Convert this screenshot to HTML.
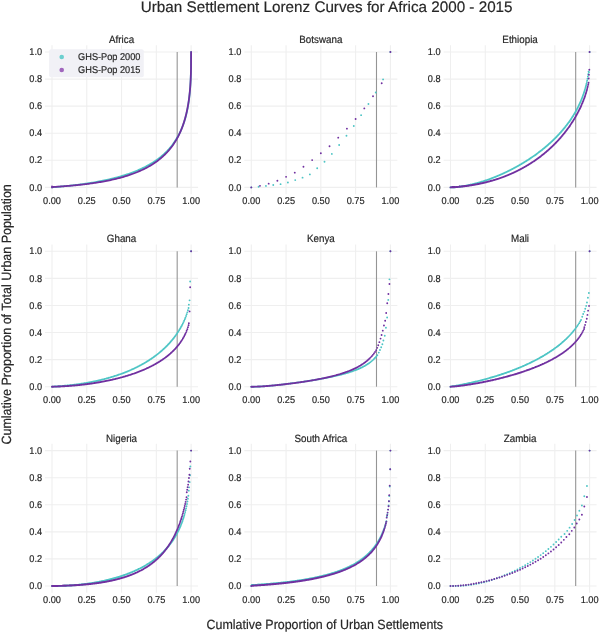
<!DOCTYPE html><html><head><meta charset="utf-8"><style>html,body{margin:0;padding:0;background:#fff;}svg{display:block;will-change:transform}text{font-family:"Liberation Sans", sans-serif;fill:#262626;text-rendering:geometricPrecision;stroke:#262626;stroke-width:0.18px;paint-order:stroke}</style></head><body>
<svg width="599" height="632" viewBox="0 0 599 632">
<rect width="599" height="632" fill="#fff"/>
<text transform="translate(140.80 12.20)" font-size="15.24" fill="#111">Urban Settlement Lorenz Curves for Africa 2000 - 2015</text>
<path d="M52.00 45.23V194.17M86.78 45.23V194.17M121.55 45.23V194.17M156.32 45.23V194.17M191.10 45.23V194.17M45.05 187.40H198.06M45.05 160.32H198.06M45.05 133.24H198.06M45.05 106.16H198.06M45.05 79.08H198.06M45.05 52.00H198.06" stroke="#efefef" stroke-width="1.1" fill="none"/>
<text transform="translate(121.55 42.90) scale(1 1.07)" font-size="9.8" text-anchor="middle">Africa</text>
<text transform="translate(52.00 204.10) scale(1 1.07)" font-size="9.2" text-anchor="middle">0.00</text>
<text transform="translate(86.78 204.10) scale(1 1.07)" font-size="9.2" text-anchor="middle">0.25</text>
<text transform="translate(121.55 204.10) scale(1 1.07)" font-size="9.2" text-anchor="middle">0.50</text>
<text transform="translate(156.32 204.10) scale(1 1.07)" font-size="9.2" text-anchor="middle">0.75</text>
<text transform="translate(191.10 204.10) scale(1 1.07)" font-size="9.2" text-anchor="middle">1.00</text>
<text transform="translate(42.10 190.55) scale(1 1.07)" font-size="9.2" text-anchor="end">0.0</text>
<text transform="translate(42.10 163.47) scale(1 1.07)" font-size="9.2" text-anchor="end">0.2</text>
<text transform="translate(42.10 136.39) scale(1 1.07)" font-size="9.2" text-anchor="end">0.4</text>
<text transform="translate(42.10 109.31) scale(1 1.07)" font-size="9.2" text-anchor="end">0.6</text>
<text transform="translate(42.10 82.23) scale(1 1.07)" font-size="9.2" text-anchor="end">0.8</text>
<text transform="translate(42.10 55.15) scale(1 1.07)" font-size="9.2" text-anchor="end">1.0</text>
<path d="M177.19 52.00V187.40" stroke="#959595" stroke-width="1.1"/>
<rect x="49.1" y="49.2" width="94.7" height="28.1" rx="2" fill="#f1f1f6"/>
<circle cx="61.7" cy="57.0" r="2.3" fill="#6ccfcf"/>
<circle cx="61.7" cy="70.0" r="2.3" fill="#a066bd"/>
<text transform="translate(78.10 59.80) scale(1 1.07)" font-size="9.2">GHS-Pop 2000</text>
<text transform="translate(78.10 72.70) scale(1 1.07)" font-size="9.2">GHS-Pop 2015</text>
<path d="M52.00 187.40 52.00 187.38 52.00 187.38 52.01 187.38 52.01 187.38 52.01 187.38 52.01 187.37 52.01 187.37 52.01 187.37 52.01 187.37 52.01 187.37 52.01 187.37 52.01 187.37 52.01 187.37 52.02 187.37 52.02 187.37 52.02 187.37 52.02 187.37 52.02 187.37 52.03 187.37 52.03 187.37 52.03 187.36 52.03 187.36 52.04 187.36 52.04 187.36 52.04 187.36 52.05 187.36 52.05 187.36 52.06 187.36 52.06 187.35 52.07 187.35 52.08 187.35 52.08 187.35 52.09 187.35 52.10 187.35 52.11 187.35 52.11 187.34 52.12 187.34 52.14 187.34 52.15 187.34 52.16 187.34 52.17 187.33 52.19 187.33 52.20 187.33 52.22 187.33 52.24 187.32 52.26 187.32 52.28 187.32 52.30 187.31 52.32 187.31 52.35 187.31 52.38 187.30 52.41 187.30 52.44 187.30 52.47 187.29 52.51 187.29 52.55 187.28 52.59 187.28 52.63 187.27 52.68 187.27 52.73 187.26 52.78 187.26 52.83 187.25 52.89 187.25 52.96 187.24 53.02 187.23 53.09 187.23 53.17 187.22 53.25 187.21 53.33 187.20 53.42 187.19 53.52 187.19 53.62 187.18 53.73 187.17 53.84 187.16 53.96 187.15 54.08 187.13 54.21 187.12 54.35 187.11 54.50 187.10 54.65 187.08 54.81 187.07 54.98 187.06 55.16 187.04 55.35 187.02 55.54 187.01 55.75 186.99 55.97 186.97 56.19 186.95 56.43 186.93 56.68 186.91 56.94 186.89 57.21 186.87 57.49 186.84 57.79 186.82 58.10 186.79 58.42 186.76 58.75 186.73 59.10 186.70 59.46 186.67 59.84 186.64 60.23 186.60 60.64 186.57 61.06 186.53 61.50 186.49 61.96 186.45 62.43 186.40 62.92 186.36 63.42 186.31 63.94 186.26 64.49 186.21 65.04 186.15 65.62 186.10 66.22 186.04 66.83 185.98 67.46 185.91 68.12 185.85 68.79 185.78 69.48 185.70 70.19 185.63 70.92 185.55 71.67 185.47 72.44 185.38 73.23 185.29 74.04 185.20 74.87 185.10 75.72 185.00 76.59 184.90 77.48 184.79 78.39 184.67 79.32 184.55 80.27 184.43 81.23 184.30 82.22 184.17 83.23 184.03 84.25 183.89 85.30 183.74 86.36 183.58 87.44 183.42 88.54 183.25 89.65 183.08 90.78 182.90 91.93 182.71 93.09 182.52 94.27 182.32 95.47 182.11 96.67 181.90 97.89 181.67 99.13 181.44 100.38 181.20 101.64 180.96 102.91 180.70 104.19 180.44 105.48 180.17 106.78 179.88 108.09 179.59 109.41 179.29 110.73 178.98 112.06 178.66 113.40 178.33 114.74 177.99 116.08 177.64 117.43 177.28 118.78 176.91 120.13 176.53 121.48 176.13 122.84 175.73 124.19 175.31 125.54 174.88 126.89 174.44 128.23 173.99 129.57 173.52 130.91 173.05 132.24 172.56 133.57 172.05 134.88 171.54 136.19 171.01 137.50 170.47 138.79 169.92 140.07 169.35 141.34 168.77 142.60 168.18 143.85 167.57 145.09 166.95 146.31 166.31 147.52 165.67 148.71 165.01 149.89 164.33 151.06 163.64 152.21 162.94 153.34 162.23 154.46 161.50 155.55 160.76 156.64 160.00 157.70 159.24 158.75 158.45 159.77 157.66 160.78 156.85 161.77 156.03 162.74 155.20 163.69 154.36 164.62 153.50 165.53 152.63 166.43 151.75 167.30 150.86 168.15 149.95 168.98 149.04 169.79 148.11 170.59 147.18 171.36 146.23 172.11 145.28 172.84 144.31 173.55 143.34 174.25 142.35 174.92 141.36 175.57 140.36 176.21 139.35 176.82 138.33 177.42 137.31 178.00 136.28 178.56 135.24 179.10 134.20 179.63 133.15 180.14 132.10 180.63 131.05 181.10 129.98 181.56 128.92 182.00 127.85 182.42 126.78 182.83 125.71 183.22 124.63 183.60 123.56 183.97 122.48 184.32 121.40 184.65 120.33 184.97 119.25 185.28 118.17 185.58 117.10 185.86 116.03 186.14 114.96 186.40 113.89 186.65 112.83 186.88 111.77 187.11 110.71 187.33 109.66 187.54 108.61 187.73 107.57 187.92 106.54 188.10 105.51 188.27 104.49 188.43 103.47 188.59 102.47 188.74 101.47 188.88 100.47 189.01 99.49 189.13 98.52 189.25 97.55 189.36 96.59 189.47 95.65 189.57 94.71 189.67 93.78 189.76 92.87 189.84 91.96 189.92 91.07 190.00 90.19 190.07 89.31 190.14 88.45 190.20 87.60 190.26 86.77 190.32 85.94 190.37 85.13 190.42 84.33 190.47 83.54 190.51 82.77 190.55 82.00 190.59 81.25 190.63 80.51 190.66 79.79 190.69 79.08 190.72 78.38 190.75 77.69 190.77 77.02 190.80 76.36 190.82 75.71 190.84 75.07 190.86 74.45 190.88 73.84 190.90 73.24 190.91 72.66 190.93 72.08 190.94 71.52 190.95 70.97 190.96 70.44 190.97 69.91 190.98 69.40 190.99 68.90 191.00 68.41 191.01 67.94 191.02 67.47 191.02 67.02 191.03 66.57 191.10 52.00" fill="none" stroke="#4ec5c5" stroke-width="1.8" stroke-linecap="round" stroke-linejoin="round"/>
<path d="M52.00 187.40 52.00 186.40 52.00 186.44 52.01 186.48 52.01 186.52 52.01 186.55 52.01 186.59 52.01 186.62 52.01 186.64 52.01 186.67 52.01 186.70 52.01 186.72 52.01 186.74 52.01 186.77 52.02 186.79 52.02 186.80 52.02 186.82 52.02 186.84 52.02 186.85 52.03 186.87 52.03 186.88 52.03 186.90 52.03 186.91 52.04 186.92 52.04 186.93 52.04 186.94 52.05 186.95 52.05 186.96 52.06 186.97 52.06 186.98 52.07 186.99 52.08 186.99 52.08 187.00 52.09 187.01 52.10 187.01 52.11 187.02 52.11 187.02 52.12 187.03 52.14 187.03 52.15 187.03 52.16 187.04 52.17 187.04 52.19 187.04 52.20 187.04 52.22 187.05 52.24 187.05 52.26 187.05 52.28 187.05 52.30 187.05 52.32 187.05 52.35 187.05 52.38 187.05 52.41 187.05 52.44 187.05 52.47 187.05 52.51 187.05 52.55 187.05 52.59 187.04 52.63 187.04 52.68 187.04 52.73 187.04 52.78 187.03 52.83 187.03 52.89 187.03 52.96 187.02 53.02 187.02 53.09 187.01 53.17 187.01 53.25 187.00 53.33 187.00 53.42 186.99 53.52 186.99 53.62 186.98 53.73 186.97 53.84 186.96 53.96 186.96 54.08 186.95 54.21 186.94 54.35 186.93 54.50 186.92 54.65 186.91 54.81 186.90 54.98 186.89 55.16 186.87 55.35 186.86 55.54 186.85 55.75 186.83 55.97 186.82 56.19 186.80 56.43 186.79 56.68 186.77 56.94 186.75 57.21 186.73 57.49 186.71 57.79 186.69 58.10 186.67 58.42 186.65 58.75 186.63 59.10 186.60 59.46 186.58 59.84 186.55 60.23 186.52 60.64 186.49 61.06 186.46 61.50 186.43 61.96 186.40 62.43 186.36 62.92 186.33 63.42 186.29 63.94 186.25 64.49 186.21 65.04 186.17 65.62 186.12 66.22 186.07 66.83 186.02 67.46 185.97 68.12 185.92 68.79 185.86 69.48 185.80 70.19 185.74 70.92 185.68 71.67 185.61 72.44 185.54 73.23 185.47 74.04 185.39 74.87 185.31 75.72 185.23 76.59 185.14 77.48 185.05 78.39 184.96 79.32 184.86 80.27 184.76 81.23 184.65 82.22 184.54 83.23 184.43 84.25 184.31 85.30 184.18 86.36 184.05 87.44 183.92 88.54 183.77 89.65 183.63 90.78 183.47 91.93 183.31 93.09 183.15 94.27 182.97 95.47 182.79 96.67 182.61 97.89 182.41 99.13 182.21 100.38 182.00 101.64 181.79 102.91 181.56 104.19 181.33 105.48 181.08 106.78 180.83 108.09 180.57 109.41 180.30 110.73 180.02 112.06 179.73 113.40 179.43 114.74 179.12 116.08 178.79 117.43 178.46 118.78 178.12 120.13 177.76 121.48 177.39 122.84 177.01 124.19 176.62 125.54 176.22 126.89 175.80 128.23 175.37 129.57 174.92 130.91 174.47 132.24 173.99 133.57 173.51 134.88 173.01 136.19 172.50 137.50 171.97 138.79 171.43 140.07 170.87 141.34 170.30 142.60 169.71 143.85 169.11 145.09 168.50 146.31 167.86 147.52 167.22 148.71 166.55 149.89 165.87 151.06 165.18 152.21 164.47 153.34 163.74 154.46 163.00 155.55 162.25 156.64 161.48 157.70 160.69 158.75 159.89 159.77 159.07 160.78 158.24 161.77 157.39 162.74 156.53 163.69 155.66 164.62 154.77 165.53 153.86 166.43 152.95 167.30 152.02 168.15 151.07 168.98 150.12 169.79 149.15 170.59 148.17 171.36 147.18 172.11 146.18 172.84 145.16 173.55 144.14 174.25 143.10 174.92 142.06 175.57 141.01 176.21 139.95 176.82 138.88 177.42 137.80 178.00 136.72 178.56 135.63 179.10 134.53 179.63 133.43 180.14 132.33 180.63 131.22 181.10 130.10 181.56 128.99 182.00 127.87 182.42 126.75 182.83 125.63 183.22 124.50 183.60 123.38 183.97 122.26 184.32 121.14 184.65 120.02 184.97 118.90 185.28 117.79 185.58 116.68 185.86 115.57 186.14 114.47 186.40 113.38 186.65 112.28 186.88 111.20 187.11 110.12 187.33 109.05 187.54 107.99 187.73 106.93 187.92 105.88 188.10 104.84 188.27 103.82 188.43 102.80 188.59 101.79 188.74 100.79 188.88 99.80 189.01 98.82 189.13 97.86 189.25 96.90 189.36 95.96 189.47 95.03 189.57 94.12 189.67 93.21 189.76 92.32 189.84 91.44 189.92 90.58 190.00 89.73 190.07 88.89 190.14 88.07 190.20 87.26 190.26 86.46 190.32 85.68 190.37 84.91 190.42 84.16 190.47 83.42 190.51 82.69 190.55 81.98 190.59 81.28 190.63 80.60 190.66 79.93 190.69 79.27 190.72 78.63 190.75 78.00 190.77 77.38 190.80 76.78 190.82 76.20 190.84 75.62 190.86 75.06 190.88 74.51 190.90 73.98 190.91 73.46 190.93 72.95 190.94 72.45 190.95 71.96 190.96 71.49 190.97 71.03 190.98 70.58 190.99 70.14 191.00 69.72 191.01 69.30 191.02 68.90 191.02 68.51 191.03 68.12 191.10 52.00" fill="none" stroke="#7030a0" stroke-width="1.8" stroke-linecap="round" stroke-linejoin="round"/>
<path d="M251.30 45.23V194.17M286.07 45.23V194.17M320.85 45.23V194.17M355.62 45.23V194.17M390.40 45.23V194.17M244.34 187.40H397.36M244.34 160.32H397.36M244.34 133.24H397.36M244.34 106.16H397.36M244.34 79.08H397.36M244.34 52.00H397.36" stroke="#efefef" stroke-width="1.1" fill="none"/>
<text transform="translate(320.85 42.90) scale(1 1.07)" font-size="9.8" text-anchor="middle">Botswana</text>
<text transform="translate(251.30 204.10) scale(1 1.07)" font-size="9.2" text-anchor="middle">0.00</text>
<text transform="translate(286.07 204.10) scale(1 1.07)" font-size="9.2" text-anchor="middle">0.25</text>
<text transform="translate(320.85 204.10) scale(1 1.07)" font-size="9.2" text-anchor="middle">0.50</text>
<text transform="translate(355.62 204.10) scale(1 1.07)" font-size="9.2" text-anchor="middle">0.75</text>
<text transform="translate(390.40 204.10) scale(1 1.07)" font-size="9.2" text-anchor="middle">1.00</text>
<text transform="translate(241.40 190.55) scale(1 1.07)" font-size="9.2" text-anchor="end">0.0</text>
<text transform="translate(241.40 163.47) scale(1 1.07)" font-size="9.2" text-anchor="end">0.2</text>
<text transform="translate(241.40 136.39) scale(1 1.07)" font-size="9.2" text-anchor="end">0.4</text>
<text transform="translate(241.40 109.31) scale(1 1.07)" font-size="9.2" text-anchor="end">0.6</text>
<text transform="translate(241.40 82.23) scale(1 1.07)" font-size="9.2" text-anchor="end">0.8</text>
<text transform="translate(241.40 55.15) scale(1 1.07)" font-size="9.2" text-anchor="end">1.0</text>
<path d="M376.49 52.00V187.40" stroke="#959595" stroke-width="1.1"/>
<path d="M251.30 187.40h0M258.62 186.72h0M265.94 185.91h0M273.26 184.96h0M280.58 184.15h0M287.91 182.53h0M295.23 180.09h0M302.55 177.65h0M309.87 174.40h0M317.19 168.31h0M324.51 161.81h0M331.83 153.90h0M339.15 145.05h0M346.47 135.74h0M353.79 126.00h0M361.12 115.14h0M368.44 104.06h0M375.76 92.55h0M383.08 79.40h0M390.40 52.00h0" fill="none" stroke="#4ec5c5" stroke-width="1.9" stroke-linecap="round"/>
<path d="M251.30 187.40h0M259.99 185.86h0M268.69 183.66h0M277.38 180.77h0M286.07 176.84h0M294.77 172.64h0M303.46 166.82h0M312.16 160.10h0M320.85 153.28h0M329.54 146.24h0M338.24 137.63h0M346.93 128.65h0M355.62 119.02h0M364.32 108.38h0M373.01 96.32h0M381.71 83.20h0M390.40 52.00h0" fill="none" stroke="#7030a0" stroke-width="1.9" stroke-linecap="round"/>
<path d="M450.50 45.23V194.17M485.27 45.23V194.17M520.05 45.23V194.17M554.83 45.23V194.17M589.60 45.23V194.17M443.55 187.40H596.56M443.55 160.32H596.56M443.55 133.24H596.56M443.55 106.16H596.56M443.55 79.08H596.56M443.55 52.00H596.56" stroke="#efefef" stroke-width="1.1" fill="none"/>
<text transform="translate(520.05 42.90) scale(1 1.07)" font-size="9.8" text-anchor="middle">Ethiopia</text>
<text transform="translate(450.50 204.10) scale(1 1.07)" font-size="9.2" text-anchor="middle">0.00</text>
<text transform="translate(485.27 204.10) scale(1 1.07)" font-size="9.2" text-anchor="middle">0.25</text>
<text transform="translate(520.05 204.10) scale(1 1.07)" font-size="9.2" text-anchor="middle">0.50</text>
<text transform="translate(554.83 204.10) scale(1 1.07)" font-size="9.2" text-anchor="middle">0.75</text>
<text transform="translate(589.60 204.10) scale(1 1.07)" font-size="9.2" text-anchor="middle">1.00</text>
<text transform="translate(440.60 190.55) scale(1 1.07)" font-size="9.2" text-anchor="end">0.0</text>
<text transform="translate(440.60 163.47) scale(1 1.07)" font-size="9.2" text-anchor="end">0.2</text>
<text transform="translate(440.60 136.39) scale(1 1.07)" font-size="9.2" text-anchor="end">0.4</text>
<text transform="translate(440.60 109.31) scale(1 1.07)" font-size="9.2" text-anchor="end">0.6</text>
<text transform="translate(440.60 82.23) scale(1 1.07)" font-size="9.2" text-anchor="end">0.8</text>
<text transform="translate(440.60 55.15) scale(1 1.07)" font-size="9.2" text-anchor="end">1.0</text>
<path d="M575.69 52.00V187.40" stroke="#959595" stroke-width="1.1"/>
<path d="M450.50 187.40h0M450.85 187.40h0M451.20 187.40h0M451.54 187.39h0M451.89 187.38h0M452.24 187.38h0M452.59 187.36h0M452.93 187.35h0M453.28 187.34h0M453.63 187.32h0M453.98 187.30h0M454.33 187.28h0M454.67 187.26h0M455.02 187.23h0M455.37 187.21h0M455.72 187.18h0M456.06 187.15h0M456.41 187.12h0M456.76 187.08h0M457.11 187.05h0M457.45 187.01h0M457.80 186.98h0M458.15 186.94h0M458.50 186.90h0M458.85 186.86h0M459.19 186.82h0M459.54 186.77h0M459.89 186.73h0M460.24 186.68h0M460.58 186.63h0M460.93 186.58h0M461.28 186.53h0M461.63 186.48h0M461.98 186.43h0M462.32 186.37h0M462.67 186.32h0M463.02 186.26h0M463.37 186.20h0M463.71 186.14h0M464.06 186.08h0M464.41 186.02h0M464.76 185.96h0M465.11 185.90h0M465.45 185.83h0M465.80 185.77h0M466.15 185.70h0M466.50 185.63h0M466.84 185.56h0M467.19 185.49h0M467.54 185.42h0M467.89 185.35h0M468.24 185.28h0M468.58 185.20h0M468.93 185.13h0M469.28 185.05h0M469.63 184.98h0M469.97 184.90h0M470.32 184.82h0M470.67 184.74h0M471.02 184.66h0M471.37 184.58h0M471.71 184.49h0M472.06 184.41h0M472.41 184.32h0M472.76 184.24h0M473.10 184.15h0M473.45 184.06h0M473.80 183.98h0M474.15 183.89h0M474.49 183.80h0M474.84 183.70h0M475.19 183.61h0M475.54 183.52h0M475.89 183.43h0M476.23 183.33h0M476.58 183.23h0M476.93 183.14h0M477.28 183.04h0M477.62 182.94h0M477.97 182.84h0M478.32 182.74h0M478.67 182.64h0M479.02 182.54h0M479.36 182.44h0M479.71 182.33h0M480.06 182.23h0M480.41 182.12h0M480.75 182.02h0M481.10 181.91h0M481.45 181.80h0M481.80 181.70h0M482.15 181.59h0M482.49 181.48h0M482.84 181.36h0M483.19 181.25h0M483.54 181.14h0M483.88 181.03h0M484.23 180.91h0M484.58 180.80h0M484.93 180.68h0M485.27 180.56h0M485.62 180.45h0M485.97 180.33h0M486.32 180.21h0M486.67 180.09h0M487.01 179.97h0M487.36 179.85h0M487.71 179.72h0M488.06 179.60h0M488.40 179.48h0M488.75 179.35h0M489.10 179.22h0M489.45 179.10h0M489.80 178.97h0M490.14 178.84h0M490.49 178.71h0M490.84 178.58h0M491.19 178.45h0M491.53 178.32h0M491.88 178.19h0M492.23 178.06h0M492.58 177.92h0M492.93 177.79h0M493.27 177.65h0M493.62 177.52h0M493.97 177.38h0M494.32 177.24h0M494.66 177.10h0M495.01 176.96h0M495.36 176.82h0M495.71 176.68h0M496.06 176.54h0M496.40 176.40h0M496.75 176.25h0M497.10 176.11h0M497.45 175.97h0M497.79 175.82h0M498.14 175.67h0M498.49 175.53h0M498.84 175.38h0M499.19 175.23h0M499.53 175.08h0M499.88 174.93h0M500.23 174.78h0M500.58 174.62h0M500.92 174.47h0M501.27 174.32h0M501.62 174.16h0M501.97 174.01h0M502.31 173.85h0M502.66 173.69h0M503.01 173.54h0M503.36 173.38h0M503.71 173.22h0M504.05 173.06h0M504.40 172.90h0M504.75 172.73h0M505.10 172.57h0M505.44 172.41h0M505.79 172.24h0M506.14 172.08h0M506.49 171.91h0M506.84 171.74h0M507.18 171.58h0M507.53 171.41h0M507.88 171.24h0M508.23 171.07h0M508.57 170.90h0M508.92 170.72h0M509.27 170.55h0M509.62 170.38h0M509.97 170.20h0M510.31 170.03h0M510.66 169.85h0M511.01 169.67h0M511.36 169.49h0M511.70 169.32h0M512.05 169.14h0M512.40 168.96h0M512.75 168.77h0M513.10 168.59h0M513.44 168.41h0M513.79 168.22h0M514.14 168.04h0M514.49 167.85h0M514.83 167.67h0M515.18 167.48h0M515.53 167.29h0M515.88 167.10h0M516.22 166.91h0M516.57 166.72h0M516.92 166.52h0M517.27 166.33h0M517.62 166.14h0M517.96 165.94h0M518.31 165.75h0M518.66 165.55h0M519.01 165.35h0M519.35 165.15h0M519.70 164.95h0M520.05 164.75h0M520.40 164.55h0M520.75 164.35h0M521.09 164.14h0M521.44 163.94h0M521.79 163.73h0M522.14 163.53h0M522.48 163.32h0M522.83 163.11h0M523.18 162.90h0M523.53 162.69h0M523.88 162.48h0M524.22 162.27h0M524.57 162.05h0M524.92 161.84h0M525.27 161.62h0M525.61 161.40h0M525.96 161.19h0M526.31 160.97h0M526.66 160.75h0M527.00 160.53h0M527.35 160.30h0M527.70 160.08h0M528.05 159.86h0M528.40 159.63h0M528.74 159.41h0M529.09 159.18h0M529.44 158.95h0M529.79 158.72h0M530.13 158.49h0M530.48 158.26h0M530.83 158.02h0M531.18 157.79h0M531.53 157.55h0M531.87 157.32h0M532.22 157.08h0M532.57 156.84h0M532.92 156.60h0M533.26 156.36h0M533.61 156.12h0M533.96 155.87h0M534.31 155.63h0M534.66 155.38h0M535.00 155.13h0M535.35 154.88h0M535.70 154.63h0M536.05 154.38h0M536.39 154.13h0M536.74 153.88h0M537.09 153.62h0M537.44 153.36h0M537.79 153.11h0M538.13 152.85h0M538.48 152.59h0M538.83 152.32h0M539.18 152.06h0M539.52 151.80h0M539.87 151.53h0M540.22 151.26h0M540.57 150.99h0M540.91 150.72h0M541.26 150.45h0M541.61 150.18h0M541.96 149.90h0M542.31 149.63h0M542.65 149.35h0M543.00 149.07h0M543.35 148.79h0M543.70 148.50h0M544.04 148.22h0M544.39 147.93h0M544.74 147.65h0M545.09 147.36h0M545.44 147.07h0M545.78 146.77h0M546.13 146.48h0M546.48 146.19h0M546.83 145.89h0M547.17 145.59h0M547.52 145.29h0M547.87 144.99h0M548.22 144.68h0M548.57 144.37h0M548.91 144.07h0M549.26 143.76h0M549.61 143.44h0M549.96 143.13h0M550.30 142.81h0M550.65 142.50h0M551.00 142.18h0M551.35 141.86h0M551.70 141.53h0M552.04 141.21h0M552.39 140.88h0M552.74 140.55h0M553.09 140.22h0M553.43 139.88h0M553.78 139.55h0M554.13 139.21h0M554.48 138.87h0M554.83 138.52h0M555.17 138.18h0M555.52 137.83h0M555.87 137.48h0M556.22 137.13h0M556.56 136.77h0M556.91 136.41h0M557.26 136.05h0M557.61 135.69h0M557.95 135.32h0M558.30 134.95h0M558.65 134.58h0M559.00 134.21h0M559.35 133.83h0M559.69 133.45h0M560.04 133.07h0M560.39 132.68h0M560.74 132.30h0M561.08 131.90h0M561.43 131.51h0M561.78 131.11h0M562.13 130.71h0M562.48 130.31h0M562.82 129.90h0M563.17 129.49h0M563.52 129.07h0M563.87 128.65h0M564.21 128.23h0M564.56 127.81h0M564.91 127.38h0M565.26 126.94h0M565.61 126.51h0M565.95 126.06h0M566.30 125.62h0M566.65 125.17h0M567.00 124.71h0M567.34 124.26h0M567.69 123.79h0M568.04 123.32h0M568.39 122.85h0M568.74 122.37h0M569.08 121.89h0M569.43 121.40h0M569.78 120.91h0M570.13 120.41h0M570.47 119.91h0M570.82 119.40h0M571.17 118.88h0M571.52 118.36h0M571.86 117.83h0M572.21 117.29h0M572.56 116.75h0M572.91 116.20h0M573.26 115.65h0M573.60 115.08h0M573.95 114.51h0M574.30 113.93h0M574.65 113.35h0M574.99 112.75h0M575.34 112.15h0M575.69 111.53h0M576.04 110.91h0M576.39 110.28h0M576.73 109.64h0M577.08 108.98h0M577.43 108.32h0M577.78 107.64h0M578.12 106.95h0M578.47 106.25h0M578.82 105.54h0M579.17 104.81h0M579.52 104.06h0M579.86 103.30h0M580.21 102.53h0M580.56 101.73h0M580.91 100.92h0M581.25 100.09h0M581.60 99.23h0M581.95 98.36h0M582.30 97.46h0M582.64 96.53h0M582.99 95.57h0M583.34 94.59h0M583.69 93.57h0M584.04 92.51h0M584.38 91.42h0M584.73 90.28h0M585.08 89.09h0M585.43 87.84h0M585.77 86.53h0M586.12 85.15h0M586.47 83.68h0M586.82 82.11h0M587.17 80.42h0M587.51 78.58h0M587.86 76.55h0M588.21 74.27h0M588.56 71.61h0M588.90 72.31h0M589.60 52.00h0" fill="none" stroke="#4ec5c5" stroke-width="1.9" stroke-linecap="round"/>
<path d="M450.50 187.40h0M450.85 187.37h0M451.20 187.36h0M451.54 187.34h0M451.89 187.32h0M452.24 187.31h0M452.59 187.29h0M452.93 187.27h0M453.28 187.25h0M453.63 187.23h0M453.98 187.20h0M454.33 187.18h0M454.67 187.16h0M455.02 187.14h0M455.37 187.11h0M455.72 187.09h0M456.06 187.06h0M456.41 187.03h0M456.76 187.01h0M457.11 186.98h0M457.45 186.95h0M457.80 186.92h0M458.15 186.89h0M458.50 186.86h0M458.85 186.83h0M459.19 186.80h0M459.54 186.76h0M459.89 186.73h0M460.24 186.70h0M460.58 186.66h0M460.93 186.63h0M461.28 186.59h0M461.63 186.56h0M461.98 186.52h0M462.32 186.48h0M462.67 186.44h0M463.02 186.40h0M463.37 186.36h0M463.71 186.32h0M464.06 186.28h0M464.41 186.24h0M464.76 186.20h0M465.11 186.15h0M465.45 186.11h0M465.80 186.06h0M466.15 186.02h0M466.50 185.97h0M466.84 185.93h0M467.19 185.88h0M467.54 185.83h0M467.89 185.78h0M468.24 185.73h0M468.58 185.68h0M468.93 185.63h0M469.28 185.58h0M469.63 185.53h0M469.97 185.48h0M470.32 185.42h0M470.67 185.37h0M471.02 185.31h0M471.37 185.26h0M471.71 185.20h0M472.06 185.15h0M472.41 185.09h0M472.76 185.03h0M473.10 184.97h0M473.45 184.91h0M473.80 184.85h0M474.15 184.79h0M474.49 184.73h0M474.84 184.66h0M475.19 184.60h0M475.54 184.54h0M475.89 184.47h0M476.23 184.41h0M476.58 184.34h0M476.93 184.27h0M477.28 184.21h0M477.62 184.14h0M477.97 184.07h0M478.32 184.00h0M478.67 183.93h0M479.02 183.86h0M479.36 183.78h0M479.71 183.71h0M480.06 183.64h0M480.41 183.56h0M480.75 183.49h0M481.10 183.41h0M481.45 183.34h0M481.80 183.26h0M482.15 183.18h0M482.49 183.10h0M482.84 183.02h0M483.19 182.94h0M483.54 182.86h0M483.88 182.78h0M484.23 182.70h0M484.58 182.61h0M484.93 182.53h0M485.27 182.44h0M485.62 182.36h0M485.97 182.27h0M486.32 182.18h0M486.67 182.10h0M487.01 182.01h0M487.36 181.92h0M487.71 181.83h0M488.06 181.74h0M488.40 181.64h0M488.75 181.55h0M489.10 181.46h0M489.45 181.36h0M489.80 181.27h0M490.14 181.17h0M490.49 181.07h0M490.84 180.97h0M491.19 180.88h0M491.53 180.78h0M491.88 180.68h0M492.23 180.58h0M492.58 180.47h0M492.93 180.37h0M493.27 180.27h0M493.62 180.16h0M493.97 180.06h0M494.32 179.95h0M494.66 179.84h0M495.01 179.73h0M495.36 179.63h0M495.71 179.52h0M496.06 179.41h0M496.40 179.29h0M496.75 179.18h0M497.10 179.07h0M497.45 178.95h0M497.79 178.84h0M498.14 178.72h0M498.49 178.61h0M498.84 178.49h0M499.19 178.37h0M499.53 178.25h0M499.88 178.13h0M500.23 178.01h0M500.58 177.89h0M500.92 177.76h0M501.27 177.64h0M501.62 177.51h0M501.97 177.39h0M502.31 177.26h0M502.66 177.13h0M503.01 177.00h0M503.36 176.87h0M503.71 176.74h0M504.05 176.61h0M504.40 176.48h0M504.75 176.34h0M505.10 176.21h0M505.44 176.07h0M505.79 175.94h0M506.14 175.80h0M506.49 175.66h0M506.84 175.52h0M507.18 175.38h0M507.53 175.24h0M507.88 175.10h0M508.23 174.95h0M508.57 174.81h0M508.92 174.66h0M509.27 174.52h0M509.62 174.37h0M509.97 174.22h0M510.31 174.07h0M510.66 173.92h0M511.01 173.77h0M511.36 173.62h0M511.70 173.46h0M512.05 173.31h0M512.40 173.15h0M512.75 172.99h0M513.10 172.84h0M513.44 172.68h0M513.79 172.52h0M514.14 172.35h0M514.49 172.19h0M514.83 172.03h0M515.18 171.86h0M515.53 171.70h0M515.88 171.53h0M516.22 171.36h0M516.57 171.19h0M516.92 171.02h0M517.27 170.85h0M517.62 170.68h0M517.96 170.50h0M518.31 170.33h0M518.66 170.15h0M519.01 169.98h0M519.35 169.80h0M519.70 169.62h0M520.05 169.44h0M520.40 169.26h0M520.75 169.07h0M521.09 168.89h0M521.44 168.70h0M521.79 168.52h0M522.14 168.33h0M522.48 168.14h0M522.83 167.95h0M523.18 167.76h0M523.53 167.56h0M523.88 167.37h0M524.22 167.17h0M524.57 166.98h0M524.92 166.78h0M525.27 166.58h0M525.61 166.38h0M525.96 166.17h0M526.31 165.97h0M526.66 165.77h0M527.00 165.56h0M527.35 165.35h0M527.70 165.14h0M528.05 164.93h0M528.40 164.72h0M528.74 164.51h0M529.09 164.30h0M529.44 164.08h0M529.79 163.86h0M530.13 163.64h0M530.48 163.43h0M530.83 163.20h0M531.18 162.98h0M531.53 162.76h0M531.87 162.53h0M532.22 162.30h0M532.57 162.08h0M532.92 161.85h0M533.26 161.62h0M533.61 161.38h0M533.96 161.15h0M534.31 160.91h0M534.66 160.67h0M535.00 160.44h0M535.35 160.20h0M535.70 159.95h0M536.05 159.71h0M536.39 159.46h0M536.74 159.22h0M537.09 158.97h0M537.44 158.72h0M537.79 158.47h0M538.13 158.21h0M538.48 157.96h0M538.83 157.70h0M539.18 157.45h0M539.52 157.19h0M539.87 156.92h0M540.22 156.66h0M540.57 156.40h0M540.91 156.13h0M541.26 155.86h0M541.61 155.59h0M541.96 155.32h0M542.31 155.04h0M542.65 154.77h0M543.00 154.49h0M543.35 154.21h0M543.70 153.93h0M544.04 153.65h0M544.39 153.36h0M544.74 153.08h0M545.09 152.79h0M545.44 152.50h0M545.78 152.20h0M546.13 151.91h0M546.48 151.61h0M546.83 151.32h0M547.17 151.01h0M547.52 150.71h0M547.87 150.41h0M548.22 150.10h0M548.57 149.79h0M548.91 149.48h0M549.26 149.17h0M549.61 148.85h0M549.96 148.54h0M550.30 148.22h0M550.65 147.90h0M551.00 147.57h0M551.35 147.25h0M551.70 146.92h0M552.04 146.59h0M552.39 146.25h0M552.74 145.92h0M553.09 145.58h0M553.43 145.24h0M553.78 144.90h0M554.13 144.55h0M554.48 144.21h0M554.83 143.86h0M555.17 143.50h0M555.52 143.15h0M555.87 142.79h0M556.22 142.43h0M556.56 142.07h0M556.91 141.70h0M557.26 141.33h0M557.61 140.96h0M557.95 140.59h0M558.30 140.21h0M558.65 139.83h0M559.00 139.45h0M559.35 139.06h0M559.69 138.67h0M560.04 138.28h0M560.39 137.89h0M560.74 137.49h0M561.08 137.09h0M561.43 136.69h0M561.78 136.28h0M562.13 135.87h0M562.48 135.45h0M562.82 135.04h0M563.17 134.62h0M563.52 134.19h0M563.87 133.76h0M564.21 133.33h0M564.56 132.90h0M564.91 132.46h0M565.26 132.02h0M565.61 131.57h0M565.95 131.12h0M566.30 130.67h0M566.65 130.21h0M567.00 129.75h0M567.34 129.28h0M567.69 128.81h0M568.04 128.33h0M568.39 127.85h0M568.74 127.37h0M569.08 126.88h0M569.43 126.39h0M569.78 125.89h0M570.13 125.38h0M570.47 124.87h0M570.82 124.36h0M571.17 123.84h0M571.52 123.32h0M571.86 122.79h0M572.21 122.25h0M572.56 121.71h0M572.91 121.16h0M573.26 120.61h0M573.60 120.05h0M573.95 119.48h0M574.30 118.91h0M574.65 118.33h0M574.99 117.74h0M575.34 117.15h0M575.69 116.55h0M576.04 115.94h0M576.39 115.32h0M576.73 114.69h0M577.08 114.06h0M577.43 113.42h0M577.78 112.76h0M578.12 112.10h0M578.47 111.43h0M578.82 110.75h0M579.17 110.05h0M579.52 109.35h0M579.86 108.63h0M580.21 107.90h0M580.56 107.16h0M580.91 106.41h0M581.25 105.64h0M581.60 104.85h0M581.95 104.05h0M582.30 103.23h0M582.64 102.40h0M582.99 101.54h0M583.34 100.67h0M583.69 99.77h0M584.04 98.84h0M584.38 97.89h0M584.73 96.92h0M585.08 95.91h0M585.43 94.86h0M585.77 93.78h0M586.12 92.65h0M586.47 91.48h0M586.82 90.25h0M587.17 88.95h0M587.51 87.57h0M587.86 86.09h0M588.21 84.50h0M588.56 82.74h0M588.70 78.54h0M588.90 74.75h0M589.32 69.74h0M589.60 52.00h0" fill="none" stroke="#7030a0" stroke-width="1.9" stroke-linecap="round"/>
<path d="M52.00 244.53V393.47M86.78 244.53V393.47M121.55 244.53V393.47M156.32 244.53V393.47M191.10 244.53V393.47M45.05 386.70H198.06M45.05 359.62H198.06M45.05 332.54H198.06M45.05 305.46H198.06M45.05 278.38H198.06M45.05 251.30H198.06" stroke="#efefef" stroke-width="1.1" fill="none"/>
<text transform="translate(121.55 242.20) scale(1 1.07)" font-size="9.8" text-anchor="middle">Ghana</text>
<text transform="translate(52.00 403.40) scale(1 1.07)" font-size="9.2" text-anchor="middle">0.00</text>
<text transform="translate(86.78 403.40) scale(1 1.07)" font-size="9.2" text-anchor="middle">0.25</text>
<text transform="translate(121.55 403.40) scale(1 1.07)" font-size="9.2" text-anchor="middle">0.50</text>
<text transform="translate(156.32 403.40) scale(1 1.07)" font-size="9.2" text-anchor="middle">0.75</text>
<text transform="translate(191.10 403.40) scale(1 1.07)" font-size="9.2" text-anchor="middle">1.00</text>
<text transform="translate(42.10 389.85) scale(1 1.07)" font-size="9.2" text-anchor="end">0.0</text>
<text transform="translate(42.10 362.77) scale(1 1.07)" font-size="9.2" text-anchor="end">0.2</text>
<text transform="translate(42.10 335.69) scale(1 1.07)" font-size="9.2" text-anchor="end">0.4</text>
<text transform="translate(42.10 308.61) scale(1 1.07)" font-size="9.2" text-anchor="end">0.6</text>
<text transform="translate(42.10 281.53) scale(1 1.07)" font-size="9.2" text-anchor="end">0.8</text>
<text transform="translate(42.10 254.45) scale(1 1.07)" font-size="9.2" text-anchor="end">1.0</text>
<path d="M177.19 251.30V386.70" stroke="#959595" stroke-width="1.1"/>
<path d="M52.00 386.70h0M52.63 386.65h0M53.26 386.62h0M53.90 386.59h0M54.53 386.55h0M55.16 386.52h0M55.79 386.48h0M56.43 386.44h0M57.06 386.40h0M57.69 386.36h0M58.32 386.32h0M58.95 386.27h0M59.59 386.23h0M60.22 386.18h0M60.85 386.13h0M61.48 386.08h0M62.12 386.03h0M62.75 385.98h0M63.38 385.92h0M64.01 385.87h0M64.65 385.81h0M65.28 385.75h0M65.91 385.69h0M66.54 385.63h0M67.17 385.57h0M67.81 385.50h0M68.44 385.43h0M69.07 385.37h0M69.70 385.30h0M70.34 385.23h0M70.97 385.16h0M71.60 385.08h0M72.23 385.01h0M72.86 384.93h0M73.50 384.85h0M74.13 384.77h0M74.76 384.69h0M75.39 384.61h0M76.03 384.53h0M76.66 384.44h0M77.29 384.35h0M77.92 384.27h0M78.56 384.18h0M79.19 384.08h0M79.82 383.99h0M80.45 383.90h0M81.08 383.80h0M81.72 383.70h0M82.35 383.60h0M82.98 383.50h0M83.61 383.40h0M84.25 383.29h0M84.88 383.19h0M85.51 383.08h0M86.14 382.97h0M86.78 382.86h0M87.41 382.75h0M88.04 382.63h0M88.67 382.51h0M89.30 382.40h0M89.94 382.28h0M90.57 382.15h0M91.20 382.03h0M91.83 381.91h0M92.47 381.78h0M93.10 381.65h0M93.73 381.52h0M94.36 381.39h0M94.99 381.25h0M95.63 381.12h0M96.26 380.98h0M96.89 380.84h0M97.52 380.70h0M98.16 380.55h0M98.79 380.41h0M99.42 380.26h0M100.05 380.11h0M100.69 379.96h0M101.32 379.80h0M101.95 379.64h0M102.58 379.49h0M103.21 379.33h0M103.85 379.16h0M104.48 379.00h0M105.11 378.83h0M105.74 378.66h0M106.38 378.49h0M107.01 378.32h0M107.64 378.14h0M108.27 377.97h0M108.90 377.79h0M109.54 377.60h0M110.17 377.42h0M110.80 377.23h0M111.43 377.04h0M112.07 376.85h0M112.70 376.66h0M113.33 376.46h0M113.96 376.26h0M114.59 376.06h0M115.23 375.85h0M115.86 375.65h0M116.49 375.44h0M117.12 375.23h0M117.76 375.01h0M118.39 374.79h0M119.02 374.57h0M119.65 374.35h0M120.29 374.13h0M120.92 373.90h0M121.55 373.67h0M122.18 373.43h0M122.81 373.19h0M123.45 372.95h0M124.08 372.71h0M124.71 372.47h0M125.34 372.22h0M125.98 371.96h0M126.61 371.71h0M127.24 371.45h0M127.87 371.19h0M128.50 370.92h0M129.14 370.66h0M129.77 370.38h0M130.40 370.11h0M131.03 369.83h0M131.67 369.55h0M132.30 369.26h0M132.93 368.97h0M133.56 368.68h0M134.20 368.38h0M134.83 368.08h0M135.46 367.78h0M136.09 367.47h0M136.72 367.16h0M137.36 366.84h0M137.99 366.52h0M138.62 366.20h0M139.25 365.87h0M139.89 365.54h0M140.52 365.20h0M141.15 364.86h0M141.78 364.51h0M142.42 364.16h0M143.05 363.81h0M143.68 363.45h0M144.31 363.08h0M144.94 362.71h0M145.58 362.34h0M146.21 361.96h0M146.84 361.57h0M147.47 361.18h0M148.11 360.78h0M148.74 360.38h0M149.37 359.98h0M150.00 359.56h0M150.63 359.14h0M151.27 358.72h0M151.90 358.29h0M152.53 357.85h0M153.16 357.41h0M153.80 356.96h0M154.43 356.50h0M155.06 356.04h0M155.69 355.56h0M156.32 355.09h0M156.96 354.60h0M157.59 354.11h0M158.22 353.61h0M158.85 353.10h0M159.49 352.58h0M160.12 352.05h0M160.75 351.52h0M161.38 350.97h0M162.02 350.42h0M162.65 349.86h0M163.28 349.29h0M163.91 348.70h0M164.54 348.11h0M165.18 347.51h0M165.81 346.89h0M166.44 346.26h0M167.07 345.63h0M167.71 344.97h0M168.34 344.31h0M168.97 343.63h0M169.60 342.94h0M170.23 342.23h0M170.87 341.51h0M171.50 340.77h0M172.13 340.02h0M172.76 339.25h0M173.40 338.45h0M174.03 337.64h0M174.66 336.81h0M175.29 335.96h0M175.93 335.09h0M176.56 334.19h0M177.19 333.26h0M177.82 332.31h0M178.45 331.33h0M179.09 330.32h0M179.72 329.27h0M180.35 328.19h0M180.98 327.07h0M181.62 325.90h0M182.25 324.69h0M182.88 323.42h0M183.51 322.10h0M184.14 320.71h0M184.78 319.24h0M185.41 317.69h0M186.04 316.04h0M186.67 314.27h0M187.31 312.36h0M187.94 310.27h0M188.57 307.95h0M188.87 304.65h0M189.57 300.36h0M190.15 281.49h0M191.10 251.30h0" fill="none" stroke="#4ec5c5" stroke-width="1.9" stroke-linecap="round"/>
<path d="M52.00 386.70h0M52.63 386.69h0M53.26 386.68h0M53.90 386.67h0M54.53 386.65h0M55.16 386.64h0M55.79 386.62h0M56.43 386.60h0M57.06 386.58h0M57.69 386.55h0M58.32 386.53h0M58.95 386.50h0M59.59 386.48h0M60.22 386.45h0M60.85 386.42h0M61.48 386.39h0M62.12 386.35h0M62.75 386.32h0M63.38 386.29h0M64.01 386.25h0M64.65 386.21h0M65.28 386.17h0M65.91 386.13h0M66.54 386.09h0M67.17 386.05h0M67.81 386.01h0M68.44 385.96h0M69.07 385.91h0M69.70 385.87h0M70.34 385.82h0M70.97 385.77h0M71.60 385.72h0M72.23 385.67h0M72.86 385.61h0M73.50 385.56h0M74.13 385.50h0M74.76 385.44h0M75.39 385.39h0M76.03 385.33h0M76.66 385.27h0M77.29 385.20h0M77.92 385.14h0M78.56 385.08h0M79.19 385.01h0M79.82 384.94h0M80.45 384.87h0M81.08 384.81h0M81.72 384.73h0M82.35 384.66h0M82.98 384.59h0M83.61 384.51h0M84.25 384.44h0M84.88 384.36h0M85.51 384.28h0M86.14 384.20h0M86.78 384.12h0M87.41 384.04h0M88.04 383.96h0M88.67 383.87h0M89.30 383.79h0M89.94 383.70h0M90.57 383.61h0M91.20 383.52h0M91.83 383.43h0M92.47 383.33h0M93.10 383.24h0M93.73 383.14h0M94.36 383.04h0M94.99 382.95h0M95.63 382.85h0M96.26 382.74h0M96.89 382.64h0M97.52 382.54h0M98.16 382.43h0M98.79 382.32h0M99.42 382.21h0M100.05 382.10h0M100.69 381.99h0M101.32 381.88h0M101.95 381.76h0M102.58 381.64h0M103.21 381.53h0M103.85 381.41h0M104.48 381.28h0M105.11 381.16h0M105.74 381.04h0M106.38 380.91h0M107.01 380.78h0M107.64 380.65h0M108.27 380.52h0M108.90 380.39h0M109.54 380.25h0M110.17 380.12h0M110.80 379.98h0M111.43 379.84h0M112.07 379.69h0M112.70 379.55h0M113.33 379.40h0M113.96 379.26h0M114.59 379.11h0M115.23 378.96h0M115.86 378.80h0M116.49 378.65h0M117.12 378.49h0M117.76 378.33h0M118.39 378.17h0M119.02 378.01h0M119.65 377.84h0M120.29 377.67h0M120.92 377.50h0M121.55 377.33h0M122.18 377.16h0M122.81 376.98h0M123.45 376.80h0M124.08 376.62h0M124.71 376.44h0M125.34 376.26h0M125.98 376.07h0M126.61 375.88h0M127.24 375.69h0M127.87 375.49h0M128.50 375.30h0M129.14 375.10h0M129.77 374.89h0M130.40 374.69h0M131.03 374.48h0M131.67 374.27h0M132.30 374.06h0M132.93 373.84h0M133.56 373.63h0M134.20 373.41h0M134.83 373.18h0M135.46 372.96h0M136.09 372.73h0M136.72 372.49h0M137.36 372.26h0M137.99 372.02h0M138.62 371.78h0M139.25 371.53h0M139.89 371.28h0M140.52 371.03h0M141.15 370.78h0M141.78 370.52h0M142.42 370.26h0M143.05 369.99h0M143.68 369.72h0M144.31 369.45h0M144.94 369.17h0M145.58 368.89h0M146.21 368.61h0M146.84 368.32h0M147.47 368.02h0M148.11 367.73h0M148.74 367.43h0M149.37 367.12h0M150.00 366.81h0M150.63 366.49h0M151.27 366.17h0M151.90 365.85h0M152.53 365.52h0M153.16 365.19h0M153.80 364.85h0M154.43 364.50h0M155.06 364.15h0M155.69 363.80h0M156.32 363.43h0M156.96 363.07h0M157.59 362.69h0M158.22 362.31h0M158.85 361.93h0M159.49 361.53h0M160.12 361.13h0M160.75 360.73h0M161.38 360.31h0M162.02 359.89h0M162.65 359.46h0M163.28 359.02h0M163.91 358.58h0M164.54 358.12h0M165.18 357.66h0M165.81 357.19h0M166.44 356.71h0M167.07 356.22h0M167.71 355.71h0M168.34 355.20h0M168.97 354.68h0M169.60 354.14h0M170.23 353.59h0M170.87 353.03h0M171.50 352.45h0M172.13 351.87h0M172.76 351.26h0M173.40 350.64h0M174.03 350.01h0M174.66 349.35h0M175.29 348.68h0M175.93 347.99h0M176.56 347.27h0M177.19 346.54h0M177.82 345.78h0M178.45 344.99h0M179.09 344.18h0M179.72 343.33h0M180.35 342.46h0M180.98 341.54h0M181.62 340.59h0M182.25 339.59h0M182.88 338.55h0M183.51 337.45h0M184.14 336.29h0M184.78 335.05h0M185.41 333.74h0M186.04 332.33h0M186.67 330.80h0M187.31 329.13h0M187.94 327.28h0M188.57 325.20h0M188.87 323.20h0M189.57 311.42h0M190.15 287.32h0M191.10 251.30h0" fill="none" stroke="#7030a0" stroke-width="1.9" stroke-linecap="round"/>
<path d="M251.30 244.53V393.47M286.07 244.53V393.47M320.85 244.53V393.47M355.62 244.53V393.47M390.40 244.53V393.47M244.34 386.70H397.36M244.34 359.62H397.36M244.34 332.54H397.36M244.34 305.46H397.36M244.34 278.38H397.36M244.34 251.30H397.36" stroke="#efefef" stroke-width="1.1" fill="none"/>
<text transform="translate(320.85 242.20) scale(1 1.07)" font-size="9.8" text-anchor="middle">Kenya</text>
<text transform="translate(251.30 403.40) scale(1 1.07)" font-size="9.2" text-anchor="middle">0.00</text>
<text transform="translate(286.07 403.40) scale(1 1.07)" font-size="9.2" text-anchor="middle">0.25</text>
<text transform="translate(320.85 403.40) scale(1 1.07)" font-size="9.2" text-anchor="middle">0.50</text>
<text transform="translate(355.62 403.40) scale(1 1.07)" font-size="9.2" text-anchor="middle">0.75</text>
<text transform="translate(390.40 403.40) scale(1 1.07)" font-size="9.2" text-anchor="middle">1.00</text>
<text transform="translate(241.40 389.85) scale(1 1.07)" font-size="9.2" text-anchor="end">0.0</text>
<text transform="translate(241.40 362.77) scale(1 1.07)" font-size="9.2" text-anchor="end">0.2</text>
<text transform="translate(241.40 335.69) scale(1 1.07)" font-size="9.2" text-anchor="end">0.4</text>
<text transform="translate(241.40 308.61) scale(1 1.07)" font-size="9.2" text-anchor="end">0.6</text>
<text transform="translate(241.40 281.53) scale(1 1.07)" font-size="9.2" text-anchor="end">0.8</text>
<text transform="translate(241.40 254.45) scale(1 1.07)" font-size="9.2" text-anchor="end">1.0</text>
<path d="M376.49 251.30V386.70" stroke="#959595" stroke-width="1.1"/>
<path d="M251.30 386.70h0M252.49 386.70h0M253.68 386.69h0M254.87 386.68h0M256.06 386.65h0M257.24 386.61h0M258.43 386.56h0M259.62 386.51h0M260.81 386.44h0M262.00 386.37h0M263.19 386.29h0M264.38 386.21h0M265.57 386.12h0M266.76 386.03h0M267.94 385.93h0M269.13 385.82h0M270.32 385.72h0M271.51 385.60h0M272.70 385.49h0M273.89 385.37h0M275.08 385.25h0M276.27 385.13h0M277.46 385.00h0M278.64 384.87h0M279.83 384.74h0M281.02 384.60h0M282.21 384.47h0M283.40 384.33h0M284.59 384.19h0M285.78 384.04h0M286.97 383.90h0M288.16 383.75h0M289.34 383.60h0M290.53 383.45h0M291.72 383.30h0M292.91 383.14h0M294.10 382.99h0M295.29 382.83h0M296.48 382.67h0M297.67 382.51h0M298.86 382.34h0M300.04 382.17h0M301.23 382.00h0M302.42 381.83h0M303.61 381.66h0M304.80 381.49h0M305.99 381.31h0M307.18 381.13h0M308.37 380.95h0M309.56 380.76h0M310.74 380.58h0M311.93 380.39h0M313.12 380.19h0M314.31 380.00h0M315.50 379.80h0M316.69 379.60h0M317.88 379.40h0M319.07 379.19h0M320.26 378.98h0M321.44 378.77h0M322.63 378.55h0M323.82 378.33h0M325.01 378.11h0M326.20 377.88h0M327.39 377.65h0M328.58 377.41h0M329.77 377.17h0M330.96 376.92h0M332.14 376.67h0M333.33 376.41h0M334.52 376.15h0M335.71 375.88h0M336.90 375.61h0M338.09 375.33h0M339.28 375.04h0M340.47 374.74h0M341.66 374.44h0M342.84 374.13h0M344.03 373.81h0M345.22 373.48h0M346.41 373.14h0M347.60 372.79h0M348.79 372.43h0M349.98 372.05h0M351.17 371.67h0M352.36 371.26h0M353.54 370.85h0M354.73 370.41h0M355.92 369.96h0M357.11 369.49h0M358.30 369.00h0M359.49 368.49h0M360.68 367.95h0M361.87 367.38h0M363.06 366.78h0M364.24 366.15h0M365.43 365.48h0M366.62 364.77h0M367.81 364.01h0M369.00 363.20h0M370.19 362.33h0M371.38 361.39h0M372.57 360.37h0M373.76 359.26h0M374.94 358.04h0M376.13 356.69h0M377.32 355.18h0M378.79 352.58h0M379.98 349.97h0M381.19 347.29h0M382.37 344.27h0M383.39 340.47h0M384.75 335.74h0M385.95 327.80h0M387.13 317.51h0M388.27 299.91h0M389.45 279.35h0M390.40 251.30h0" fill="none" stroke="#4ec5c5" stroke-width="1.9" stroke-linecap="round"/>
<path d="M251.30 386.70h0M252.40 386.70h0M253.49 386.69h0M254.59 386.67h0M255.68 386.64h0M256.78 386.61h0M257.87 386.57h0M258.97 386.52h0M260.06 386.46h0M261.16 386.40h0M262.25 386.33h0M263.35 386.26h0M264.44 386.18h0M265.54 386.10h0M266.63 386.02h0M267.73 385.93h0M268.82 385.84h0M269.92 385.75h0M271.01 385.65h0M272.11 385.56h0M273.21 385.45h0M274.30 385.35h0M275.40 385.24h0M276.49 385.13h0M277.59 385.02h0M278.68 384.91h0M279.78 384.79h0M280.87 384.68h0M281.97 384.56h0M283.06 384.43h0M284.16 384.31h0M285.25 384.18h0M286.35 384.05h0M287.44 383.92h0M288.54 383.79h0M289.63 383.65h0M290.73 383.52h0M291.83 383.38h0M292.92 383.24h0M294.02 383.09h0M295.11 382.95h0M296.21 382.80h0M297.30 382.65h0M298.40 382.50h0M299.49 382.34h0M300.59 382.18h0M301.68 382.02h0M302.78 381.86h0M303.87 381.70h0M304.97 381.53h0M306.06 381.36h0M307.16 381.18h0M308.25 381.01h0M309.35 380.83h0M310.44 380.65h0M311.54 380.46h0M312.64 380.27h0M313.73 380.08h0M314.83 379.89h0M315.92 379.69h0M317.02 379.49h0M318.11 379.28h0M319.21 379.07h0M320.30 378.86h0M321.40 378.64h0M322.49 378.42h0M323.59 378.19h0M324.68 377.96h0M325.78 377.72h0M326.87 377.48h0M327.97 377.23h0M329.06 376.98h0M330.16 376.72h0M331.26 376.46h0M332.35 376.18h0M333.45 375.91h0M334.54 375.62h0M335.64 375.33h0M336.73 375.03h0M337.83 374.72h0M338.92 374.41h0M340.02 374.08h0M341.11 373.75h0M342.21 373.40h0M343.30 373.05h0M344.40 372.68h0M345.49 372.30h0M346.59 371.91h0M347.68 371.51h0M348.78 371.09h0M349.87 370.66h0M350.97 370.21h0M352.07 369.75h0M353.16 369.26h0M354.26 368.76h0M355.35 368.24h0M356.45 367.69h0M357.54 367.12h0M358.64 366.52h0M359.73 365.90h0M360.83 365.24h0M361.92 364.55h0M363.02 363.83h0M364.11 363.06h0M365.21 362.25h0M366.30 361.39h0M367.40 360.48h0M368.49 359.50h0M369.59 358.46h0M370.69 357.35h0M371.78 356.15h0M372.88 354.85h0M373.97 353.44h0M375.07 351.91h0M376.16 350.22h0M377.23 347.83h0M378.26 345.29h0M379.37 342.14h0M380.55 338.58h0M381.59 335.00h0M382.79 330.66h0M383.96 325.53h0M385.16 320.68h0M386.20 312.97h0M387.24 303.32h0M388.40 293.99h0M389.45 283.93h0M390.40 251.30h0" fill="none" stroke="#7030a0" stroke-width="1.9" stroke-linecap="round"/>
<path d="M450.50 244.53V393.47M485.27 244.53V393.47M520.05 244.53V393.47M554.83 244.53V393.47M589.60 244.53V393.47M443.55 386.70H596.56M443.55 359.62H596.56M443.55 332.54H596.56M443.55 305.46H596.56M443.55 278.38H596.56M443.55 251.30H596.56" stroke="#efefef" stroke-width="1.1" fill="none"/>
<text transform="translate(520.05 242.20) scale(1 1.07)" font-size="9.8" text-anchor="middle">Mali</text>
<text transform="translate(450.50 403.40) scale(1 1.07)" font-size="9.2" text-anchor="middle">0.00</text>
<text transform="translate(485.27 403.40) scale(1 1.07)" font-size="9.2" text-anchor="middle">0.25</text>
<text transform="translate(520.05 403.40) scale(1 1.07)" font-size="9.2" text-anchor="middle">0.50</text>
<text transform="translate(554.83 403.40) scale(1 1.07)" font-size="9.2" text-anchor="middle">0.75</text>
<text transform="translate(589.60 403.40) scale(1 1.07)" font-size="9.2" text-anchor="middle">1.00</text>
<text transform="translate(440.60 389.85) scale(1 1.07)" font-size="9.2" text-anchor="end">0.0</text>
<text transform="translate(440.60 362.77) scale(1 1.07)" font-size="9.2" text-anchor="end">0.2</text>
<text transform="translate(440.60 335.69) scale(1 1.07)" font-size="9.2" text-anchor="end">0.4</text>
<text transform="translate(440.60 308.61) scale(1 1.07)" font-size="9.2" text-anchor="end">0.6</text>
<text transform="translate(440.60 281.53) scale(1 1.07)" font-size="9.2" text-anchor="end">0.8</text>
<text transform="translate(440.60 254.45) scale(1 1.07)" font-size="9.2" text-anchor="end">1.0</text>
<path d="M575.69 251.30V386.70" stroke="#959595" stroke-width="1.1"/>
<path d="M450.50 386.70h0M451.45 386.48h0M452.39 386.32h0M453.34 386.16h0M454.29 385.99h0M455.23 385.83h0M456.18 385.66h0M457.12 385.50h0M458.07 385.33h0M459.02 385.15h0M459.96 384.98h0M460.91 384.80h0M461.86 384.62h0M462.80 384.43h0M463.75 384.25h0M464.69 384.06h0M465.64 383.86h0M466.59 383.67h0M467.53 383.47h0M468.48 383.27h0M469.43 383.06h0M470.37 382.86h0M471.32 382.65h0M472.26 382.43h0M473.21 382.22h0M474.16 382.00h0M475.10 381.78h0M476.05 381.55h0M477.00 381.33h0M477.94 381.10h0M478.89 380.86h0M479.83 380.63h0M480.78 380.39h0M481.73 380.14h0M482.67 379.90h0M483.62 379.65h0M484.57 379.40h0M485.51 379.15h0M486.46 378.89h0M487.40 378.63h0M488.35 378.36h0M489.30 378.10h0M490.24 377.82h0M491.19 377.55h0M492.14 377.27h0M493.08 376.99h0M494.03 376.71h0M494.97 376.42h0M495.92 376.13h0M496.87 375.84h0M497.81 375.54h0M498.76 375.24h0M499.71 374.93h0M500.65 374.63h0M501.60 374.31h0M502.54 374.00h0M503.49 373.68h0M504.44 373.36h0M505.38 373.03h0M506.33 372.70h0M507.28 372.36h0M508.22 372.02h0M509.17 371.68h0M510.11 371.34h0M511.06 370.98h0M512.01 370.63h0M512.95 370.27h0M513.90 369.90h0M514.85 369.54h0M515.79 369.16h0M516.74 368.79h0M517.68 368.40h0M518.63 368.02h0M519.58 367.62h0M520.52 367.23h0M521.47 366.83h0M522.42 366.42h0M523.36 366.01h0M524.31 365.59h0M525.25 365.17h0M526.20 364.74h0M527.15 364.30h0M528.09 363.86h0M529.04 363.42h0M529.99 362.97h0M530.93 362.51h0M531.88 362.05h0M532.82 361.57h0M533.77 361.10h0M534.72 360.61h0M535.66 360.12h0M536.61 359.63h0M537.56 359.12h0M538.50 358.61h0M539.45 358.09h0M540.39 357.56h0M541.34 357.03h0M542.29 356.48h0M543.23 355.93h0M544.18 355.37h0M545.13 354.80h0M546.07 354.22h0M547.02 353.63h0M547.96 353.03h0M548.91 352.42h0M549.86 351.80h0M550.80 351.17h0M551.75 350.53h0M552.70 349.88h0M553.64 349.21h0M554.59 348.53h0M555.53 347.84h0M556.48 347.14h0M557.43 346.42h0M558.37 345.68h0M559.32 344.93h0M560.27 344.16h0M561.21 343.38h0M562.16 342.57h0M563.10 341.75h0M564.05 340.91h0M565.00 340.05h0M565.94 339.16h0M566.89 338.25h0M567.84 337.31h0M568.78 336.35h0M569.73 335.36h0M570.67 334.33h0M571.62 333.28h0M572.57 332.18h0M573.51 331.05h0M574.46 329.87h0M575.41 328.64h0M576.35 327.36h0M577.30 326.02h0M578.24 324.62h0M579.19 323.14h0M580.14 321.57h0M581.08 319.90h0M582.24 316.81h0M583.19 313.95h0M584.33 311.58h0M585.27 308.74h0M586.22 305.88h0M586.97 302.56h0M587.93 297.81h0M588.88 293.07h0M589.60 251.30h0" fill="none" stroke="#4ec5c5" stroke-width="1.9" stroke-linecap="round"/>
<path d="M450.50 386.70h0M451.29 386.67h0M452.08 386.63h0M452.87 386.57h0M453.66 386.51h0M454.45 386.45h0M455.24 386.37h0M456.03 386.30h0M456.82 386.22h0M457.61 386.13h0M458.40 386.05h0M459.19 385.96h0M459.98 385.86h0M460.77 385.77h0M461.56 385.67h0M462.36 385.57h0M463.15 385.46h0M463.94 385.36h0M464.73 385.25h0M465.52 385.14h0M466.31 385.03h0M467.10 384.91h0M467.89 384.79h0M468.68 384.67h0M469.47 384.55h0M470.26 384.43h0M471.05 384.30h0M471.84 384.17h0M472.63 384.04h0M473.42 383.91h0M474.21 383.78h0M475.00 383.64h0M475.79 383.51h0M476.58 383.37h0M477.37 383.22h0M478.16 383.08h0M478.95 382.94h0M479.74 382.79h0M480.53 382.64h0M481.32 382.49h0M482.11 382.34h0M482.90 382.18h0M483.69 382.03h0M484.48 381.87h0M485.27 381.71h0M486.07 381.55h0M486.86 381.38h0M487.65 381.22h0M488.44 381.05h0M489.23 380.88h0M490.02 380.71h0M490.81 380.54h0M491.60 380.36h0M492.39 380.19h0M493.18 380.01h0M493.97 379.83h0M494.76 379.65h0M495.55 379.46h0M496.34 379.27h0M497.13 379.09h0M497.92 378.90h0M498.71 378.70h0M499.50 378.51h0M500.29 378.31h0M501.08 378.12h0M501.87 377.92h0M502.66 377.71h0M503.45 377.51h0M504.24 377.30h0M505.03 377.09h0M505.82 376.88h0M506.61 376.67h0M507.40 376.46h0M508.19 376.24h0M508.99 376.02h0M509.78 375.80h0M510.57 375.57h0M511.36 375.35h0M512.15 375.12h0M512.94 374.89h0M513.73 374.66h0M514.52 374.42h0M515.31 374.18h0M516.10 373.94h0M516.89 373.70h0M517.68 373.45h0M518.47 373.20h0M519.26 372.95h0M520.05 372.70h0M520.84 372.44h0M521.63 372.18h0M522.42 371.92h0M523.21 371.66h0M524.00 371.39h0M524.79 371.12h0M525.58 370.85h0M526.37 370.57h0M527.16 370.29h0M527.95 370.01h0M528.74 369.72h0M529.53 369.43h0M530.32 369.14h0M531.11 368.84h0M531.91 368.54h0M532.70 368.24h0M533.49 367.93h0M534.28 367.62h0M535.07 367.31h0M535.86 366.99h0M536.65 366.67h0M537.44 366.34h0M538.23 366.01h0M539.02 365.68h0M539.81 365.34h0M540.60 365.00h0M541.39 364.65h0M542.18 364.30h0M542.97 363.94h0M543.76 363.58h0M544.55 363.21h0M545.34 362.84h0M546.13 362.46h0M546.92 362.08h0M547.71 361.69h0M548.50 361.30h0M549.29 360.90h0M550.08 360.49h0M550.87 360.08h0M551.66 359.66h0M552.45 359.23h0M553.24 358.80h0M554.03 358.36h0M554.83 357.91h0M555.62 357.45h0M556.41 356.99h0M557.20 356.52h0M557.99 356.04h0M558.78 355.55h0M559.57 355.05h0M560.36 354.53h0M561.15 354.01h0M561.94 353.48h0M562.73 352.94h0M563.52 352.38h0M564.31 351.82h0M565.10 351.24h0M565.89 350.64h0M566.68 350.03h0M567.47 349.40h0M568.26 348.76h0M569.05 348.10h0M569.84 347.42h0M570.63 346.73h0M571.42 346.00h0M572.21 345.26h0M573.00 344.49h0M573.79 343.70h0M574.58 342.87h0M575.37 342.01h0M576.16 341.12h0M576.95 340.19h0M577.74 339.22h0M578.54 338.20h0M579.33 337.12h0M580.12 335.98h0M580.91 334.78h0M581.70 333.49h0M582.49 332.11h0M583.28 330.61h0M584.07 328.97h0M584.33 327.25h0M585.08 324.88h0M585.84 322.02h0M586.79 318.70h0M587.46 314.91h0M588.11 310.63h0M589.06 305.88h0M589.60 251.30h0" fill="none" stroke="#7030a0" stroke-width="1.9" stroke-linecap="round"/>
<path d="M52.00 443.83V592.77M86.78 443.83V592.77M121.55 443.83V592.77M156.32 443.83V592.77M191.10 443.83V592.77M45.05 586.00H198.06M45.05 558.92H198.06M45.05 531.84H198.06M45.05 504.76H198.06M45.05 477.68H198.06M45.05 450.60H198.06" stroke="#efefef" stroke-width="1.1" fill="none"/>
<text transform="translate(121.55 441.50) scale(1 1.07)" font-size="9.8" text-anchor="middle">Nigeria</text>
<text transform="translate(52.00 602.70) scale(1 1.07)" font-size="9.2" text-anchor="middle">0.00</text>
<text transform="translate(86.78 602.70) scale(1 1.07)" font-size="9.2" text-anchor="middle">0.25</text>
<text transform="translate(121.55 602.70) scale(1 1.07)" font-size="9.2" text-anchor="middle">0.50</text>
<text transform="translate(156.32 602.70) scale(1 1.07)" font-size="9.2" text-anchor="middle">0.75</text>
<text transform="translate(191.10 602.70) scale(1 1.07)" font-size="9.2" text-anchor="middle">1.00</text>
<text transform="translate(42.10 589.15) scale(1 1.07)" font-size="9.2" text-anchor="end">0.0</text>
<text transform="translate(42.10 562.07) scale(1 1.07)" font-size="9.2" text-anchor="end">0.2</text>
<text transform="translate(42.10 534.99) scale(1 1.07)" font-size="9.2" text-anchor="end">0.4</text>
<text transform="translate(42.10 507.91) scale(1 1.07)" font-size="9.2" text-anchor="end">0.6</text>
<text transform="translate(42.10 480.83) scale(1 1.07)" font-size="9.2" text-anchor="end">0.8</text>
<text transform="translate(42.10 453.75) scale(1 1.07)" font-size="9.2" text-anchor="end">1.0</text>
<path d="M177.19 450.60V586.00" stroke="#959595" stroke-width="1.1"/>
<path d="M52.00 586.00h0M52.46 586.00h0M52.91 586.00h0M53.37 586.00h0M53.82 586.00h0M54.28 586.00h0M54.74 586.00h0M55.19 585.99h0M55.65 585.99h0M56.10 585.99h0M56.56 585.98h0M57.02 585.98h0M57.47 585.97h0M57.93 585.97h0M58.38 585.96h0M58.84 585.95h0M59.30 585.94h0M59.75 585.94h0M60.21 585.93h0M60.67 585.92h0M61.12 585.90h0M61.58 585.89h0M62.03 585.88h0M62.49 585.86h0M62.95 585.85h0M63.40 585.83h0M63.86 585.82h0M64.31 585.80h0M64.77 585.78h0M65.23 585.76h0M65.68 585.74h0M66.14 585.72h0M66.59 585.70h0M67.05 585.68h0M67.51 585.66h0M67.96 585.63h0M68.42 585.61h0M68.87 585.58h0M69.33 585.56h0M69.79 585.53h0M70.24 585.50h0M70.70 585.47h0M71.15 585.44h0M71.61 585.41h0M72.07 585.38h0M72.52 585.35h0M72.98 585.31h0M73.44 585.28h0M73.89 585.24h0M74.35 585.21h0M74.80 585.17h0M75.26 585.13h0M75.72 585.09h0M76.17 585.05h0M76.63 585.01h0M77.08 584.97h0M77.54 584.93h0M78.00 584.89h0M78.45 584.84h0M78.91 584.80h0M79.36 584.75h0M79.82 584.70h0M80.28 584.66h0M80.73 584.61h0M81.19 584.56h0M81.64 584.51h0M82.10 584.45h0M82.56 584.40h0M83.01 584.35h0M83.47 584.29h0M83.92 584.24h0M84.38 584.18h0M84.84 584.13h0M85.29 584.07h0M85.75 584.01h0M86.20 583.95h0M86.66 583.89h0M87.12 583.83h0M87.57 583.76h0M88.03 583.70h0M88.49 583.64h0M88.94 583.57h0M89.40 583.50h0M89.85 583.44h0M90.31 583.37h0M90.77 583.30h0M91.22 583.23h0M91.68 583.15h0M92.13 583.08h0M92.59 583.01h0M93.05 582.93h0M93.50 582.86h0M93.96 582.78h0M94.41 582.70h0M94.87 582.63h0M95.33 582.55h0M95.78 582.47h0M96.24 582.38h0M96.69 582.30h0M97.15 582.22h0M97.61 582.13h0M98.06 582.05h0M98.52 581.96h0M98.97 581.87h0M99.43 581.78h0M99.89 581.69h0M100.34 581.60h0M100.80 581.51h0M101.26 581.41h0M101.71 581.32h0M102.17 581.22h0M102.62 581.13h0M103.08 581.03h0M103.54 580.93h0M103.99 580.83h0M104.45 580.73h0M104.90 580.63h0M105.36 580.52h0M105.82 580.42h0M106.27 580.31h0M106.73 580.20h0M107.18 580.10h0M107.64 579.99h0M108.10 579.88h0M108.55 579.76h0M109.01 579.65h0M109.46 579.54h0M109.92 579.42h0M110.38 579.30h0M110.83 579.18h0M111.29 579.06h0M111.74 578.94h0M112.20 578.82h0M112.66 578.70h0M113.11 578.57h0M113.57 578.45h0M114.02 578.32h0M114.48 578.19h0M114.94 578.06h0M115.39 577.93h0M115.85 577.80h0M116.31 577.66h0M116.76 577.53h0M117.22 577.39h0M117.67 577.25h0M118.13 577.11h0M118.59 576.97h0M119.04 576.83h0M119.50 576.68h0M119.95 576.54h0M120.41 576.39h0M120.87 576.24h0M121.32 576.09h0M121.78 575.94h0M122.23 575.78h0M122.69 575.63h0M123.15 575.47h0M123.60 575.31h0M124.06 575.15h0M124.51 574.99h0M124.97 574.83h0M125.43 574.66h0M125.88 574.50h0M126.34 574.33h0M126.79 574.16h0M127.25 573.99h0M127.71 573.81h0M128.16 573.64h0M128.62 573.46h0M129.08 573.28h0M129.53 573.10h0M129.99 572.92h0M130.44 572.73h0M130.90 572.55h0M131.36 572.36h0M131.81 572.17h0M132.27 571.97h0M132.72 571.78h0M133.18 571.58h0M133.64 571.38h0M134.09 571.18h0M134.55 570.98h0M135.00 570.78h0M135.46 570.57h0M135.92 570.36h0M136.37 570.15h0M136.83 569.93h0M137.28 569.72h0M137.74 569.50h0M138.20 569.28h0M138.65 569.05h0M139.11 568.83h0M139.56 568.60h0M140.02 568.37h0M140.48 568.13h0M140.93 567.90h0M141.39 567.66h0M141.84 567.42h0M142.30 567.17h0M142.76 566.93h0M143.21 566.68h0M143.67 566.42h0M144.13 566.17h0M144.58 565.91h0M145.04 565.65h0M145.49 565.38h0M145.95 565.12h0M146.41 564.85h0M146.86 564.57h0M147.32 564.29h0M147.77 564.01h0M148.23 563.73h0M148.69 563.44h0M149.14 563.15h0M149.60 562.86h0M150.05 562.56h0M150.51 562.26h0M150.97 561.95h0M151.42 561.64h0M151.88 561.33h0M152.33 561.01h0M152.79 560.69h0M153.25 560.36h0M153.70 560.03h0M154.16 559.70h0M154.61 559.36h0M155.07 559.02h0M155.53 558.67h0M155.98 558.32h0M156.44 557.96h0M156.90 557.60h0M157.35 557.23h0M157.81 556.86h0M158.26 556.48h0M158.72 556.09h0M159.18 555.71h0M159.63 555.31h0M160.09 554.91h0M160.54 554.50h0M161.00 554.09h0M161.46 553.67h0M161.91 553.24h0M162.37 552.81h0M162.82 552.37h0M163.28 551.92h0M163.74 551.47h0M164.19 551.01h0M164.65 550.54h0M165.10 550.06h0M165.56 549.57h0M166.02 549.08h0M166.47 548.57h0M166.93 548.06h0M167.38 547.54h0M167.84 547.01h0M168.30 546.47h0M168.75 545.91h0M169.21 545.35h0M169.66 544.78h0M170.12 544.19h0M170.58 543.59h0M171.03 542.98h0M171.49 542.36h0M171.95 541.72h0M172.40 541.07h0M172.86 540.40h0M173.31 539.72h0M173.77 539.02h0M174.23 538.31h0M174.68 537.57h0M175.14 536.82h0M175.59 536.05h0M176.05 535.26h0M176.51 534.45h0M176.96 533.61h0M177.42 532.75h0M177.87 531.86h0M178.33 530.95h0M178.79 530.01h0M179.24 529.03h0M179.70 528.02h0M180.15 526.98h0M180.61 525.90h0M181.07 524.78h0M181.52 523.62h0M181.98 522.40h0M182.43 521.14h0M182.89 519.82h0M183.35 518.43h0M183.80 516.98h0M184.26 515.45h0M184.72 513.83h0M185.17 512.12h0M185.63 510.30h0M186.08 508.35h0M186.54 506.26h0M187.00 504.00h0M187.45 501.53h0M187.91 498.82h0M188.36 495.80h0M188.78 490.64h0M189.08 487.35h0M189.71 482.11h0M190.03 475.30h0M190.35 466.47h0M191.10 450.60h0" fill="none" stroke="#4ec5c5" stroke-width="1.9" stroke-linecap="round"/>
<path d="M52.00 586.00h0M52.46 586.00h0M52.91 586.00h0M53.37 585.99h0M53.82 585.99h0M54.28 585.98h0M54.74 585.98h0M55.19 585.97h0M55.65 585.96h0M56.10 585.96h0M56.56 585.95h0M57.02 585.94h0M57.47 585.93h0M57.93 585.93h0M58.38 585.92h0M58.84 585.91h0M59.30 585.90h0M59.75 585.89h0M60.21 585.88h0M60.67 585.86h0M61.12 585.85h0M61.58 585.84h0M62.03 585.83h0M62.49 585.81h0M62.95 585.80h0M63.40 585.79h0M63.86 585.77h0M64.31 585.76h0M64.77 585.74h0M65.23 585.73h0M65.68 585.71h0M66.14 585.69h0M66.59 585.67h0M67.05 585.66h0M67.51 585.64h0M67.96 585.62h0M68.42 585.60h0M68.87 585.58h0M69.33 585.56h0M69.79 585.54h0M70.24 585.52h0M70.70 585.50h0M71.15 585.47h0M71.61 585.45h0M72.07 585.43h0M72.52 585.40h0M72.98 585.38h0M73.44 585.35h0M73.89 585.33h0M74.35 585.30h0M74.80 585.27h0M75.26 585.25h0M75.72 585.22h0M76.17 585.19h0M76.63 585.16h0M77.08 585.13h0M77.54 585.10h0M78.00 585.07h0M78.45 585.04h0M78.91 585.01h0M79.36 584.97h0M79.82 584.94h0M80.28 584.91h0M80.73 584.87h0M81.19 584.84h0M81.64 584.80h0M82.10 584.76h0M82.56 584.73h0M83.01 584.69h0M83.47 584.65h0M83.92 584.61h0M84.38 584.57h0M84.84 584.53h0M85.29 584.49h0M85.75 584.45h0M86.20 584.40h0M86.66 584.36h0M87.12 584.32h0M87.57 584.27h0M88.03 584.23h0M88.49 584.18h0M88.94 584.13h0M89.40 584.08h0M89.85 584.04h0M90.31 583.99h0M90.77 583.94h0M91.22 583.88h0M91.68 583.83h0M92.13 583.78h0M92.59 583.73h0M93.05 583.67h0M93.50 583.62h0M93.96 583.56h0M94.41 583.50h0M94.87 583.44h0M95.33 583.39h0M95.78 583.33h0M96.24 583.27h0M96.69 583.20h0M97.15 583.14h0M97.61 583.08h0M98.06 583.01h0M98.52 582.95h0M98.97 582.88h0M99.43 582.81h0M99.89 582.75h0M100.34 582.68h0M100.80 582.61h0M101.26 582.54h0M101.71 582.46h0M102.17 582.39h0M102.62 582.32h0M103.08 582.24h0M103.54 582.16h0M103.99 582.09h0M104.45 582.01h0M104.90 581.93h0M105.36 581.84h0M105.82 581.76h0M106.27 581.68h0M106.73 581.59h0M107.18 581.51h0M107.64 581.42h0M108.10 581.33h0M108.55 581.24h0M109.01 581.15h0M109.46 581.06h0M109.92 580.97h0M110.38 580.87h0M110.83 580.78h0M111.29 580.68h0M111.74 580.58h0M112.20 580.48h0M112.66 580.38h0M113.11 580.28h0M113.57 580.17h0M114.02 580.07h0M114.48 579.96h0M114.94 579.85h0M115.39 579.74h0M115.85 579.63h0M116.31 579.51h0M116.76 579.40h0M117.22 579.28h0M117.67 579.16h0M118.13 579.05h0M118.59 578.92h0M119.04 578.80h0M119.50 578.68h0M119.95 578.55h0M120.41 578.42h0M120.87 578.29h0M121.32 578.16h0M121.78 578.03h0M122.23 577.89h0M122.69 577.75h0M123.15 577.62h0M123.60 577.47h0M124.06 577.33h0M124.51 577.19h0M124.97 577.04h0M125.43 576.89h0M125.88 576.74h0M126.34 576.59h0M126.79 576.43h0M127.25 576.27h0M127.71 576.12h0M128.16 575.95h0M128.62 575.79h0M129.08 575.62h0M129.53 575.46h0M129.99 575.28h0M130.44 575.11h0M130.90 574.94h0M131.36 574.76h0M131.81 574.58h0M132.27 574.39h0M132.72 574.21h0M133.18 574.02h0M133.64 573.83h0M134.09 573.64h0M134.55 573.44h0M135.00 573.24h0M135.46 573.04h0M135.92 572.84h0M136.37 572.63h0M136.83 572.42h0M137.28 572.20h0M137.74 571.99h0M138.20 571.77h0M138.65 571.55h0M139.11 571.32h0M139.56 571.09h0M140.02 570.86h0M140.48 570.62h0M140.93 570.38h0M141.39 570.14h0M141.84 569.89h0M142.30 569.64h0M142.76 569.39h0M143.21 569.13h0M143.67 568.87h0M144.13 568.61h0M144.58 568.34h0M145.04 568.06h0M145.49 567.79h0M145.95 567.51h0M146.41 567.22h0M146.86 566.93h0M147.32 566.64h0M147.77 566.34h0M148.23 566.03h0M148.69 565.73h0M149.14 565.41h0M149.60 565.10h0M150.05 564.77h0M150.51 564.44h0M150.97 564.11h0M151.42 563.77h0M151.88 563.43h0M152.33 563.08h0M152.79 562.73h0M153.25 562.36h0M153.70 562.00h0M154.16 561.63h0M154.61 561.25h0M155.07 560.86h0M155.53 560.47h0M155.98 560.07h0M156.44 559.67h0M156.90 559.26h0M157.35 558.84h0M157.81 558.41h0M158.26 557.98h0M158.72 557.54h0M159.18 557.09h0M159.63 556.63h0M160.09 556.17h0M160.54 555.70h0M161.00 555.21h0M161.46 554.72h0M161.91 554.22h0M162.37 553.72h0M162.82 553.20h0M163.28 552.67h0M163.74 552.13h0M164.19 551.58h0M164.65 551.02h0M165.10 550.45h0M165.56 549.87h0M166.02 549.28h0M166.47 548.67h0M166.93 548.06h0M167.38 547.43h0M167.84 546.78h0M168.30 546.13h0M168.75 545.46h0M169.21 544.77h0M169.66 544.07h0M170.12 543.35h0M170.58 542.62h0M171.03 541.87h0M171.49 541.10h0M171.95 540.32h0M172.40 539.52h0M172.86 538.69h0M173.31 537.85h0M173.77 536.99h0M174.23 536.10h0M174.68 535.19h0M175.14 534.26h0M175.59 533.30h0M176.05 532.32h0M176.51 531.31h0M176.96 530.27h0M177.42 529.19h0M177.87 528.09h0M178.33 526.96h0M178.79 525.78h0M179.24 524.58h0M179.70 523.33h0M180.15 522.04h0M180.61 520.70h0M181.07 519.32h0M181.52 517.88h0M181.98 516.40h0M182.43 514.85h0M182.89 513.24h0M183.35 511.56h0M183.80 509.80h0M184.26 507.97h0M184.72 506.04h0M185.17 504.01h0M185.63 501.88h0M186.08 499.62h0M186.54 497.23h0M186.75 492.24h0M187.21 489.70h0M187.64 487.16h0M188.14 484.63h0M188.46 481.47h0M188.96 478.00h0M189.40 474.70h0M189.72 468.68h0M190.35 461.53h0M191.10 450.60h0" fill="none" stroke="#7030a0" stroke-width="1.9" stroke-linecap="round"/>
<path d="M251.30 443.83V592.77M286.07 443.83V592.77M320.85 443.83V592.77M355.62 443.83V592.77M390.40 443.83V592.77M244.34 586.00H397.36M244.34 558.92H397.36M244.34 531.84H397.36M244.34 504.76H397.36M244.34 477.68H397.36M244.34 450.60H397.36" stroke="#efefef" stroke-width="1.1" fill="none"/>
<text transform="translate(320.85 441.50) scale(1 1.07)" font-size="9.8" text-anchor="middle">South Africa</text>
<text transform="translate(251.30 602.70) scale(1 1.07)" font-size="9.2" text-anchor="middle">0.00</text>
<text transform="translate(286.07 602.70) scale(1 1.07)" font-size="9.2" text-anchor="middle">0.25</text>
<text transform="translate(320.85 602.70) scale(1 1.07)" font-size="9.2" text-anchor="middle">0.50</text>
<text transform="translate(355.62 602.70) scale(1 1.07)" font-size="9.2" text-anchor="middle">0.75</text>
<text transform="translate(390.40 602.70) scale(1 1.07)" font-size="9.2" text-anchor="middle">1.00</text>
<text transform="translate(241.40 589.15) scale(1 1.07)" font-size="9.2" text-anchor="end">0.0</text>
<text transform="translate(241.40 562.07) scale(1 1.07)" font-size="9.2" text-anchor="end">0.2</text>
<text transform="translate(241.40 534.99) scale(1 1.07)" font-size="9.2" text-anchor="end">0.4</text>
<text transform="translate(241.40 507.91) scale(1 1.07)" font-size="9.2" text-anchor="end">0.6</text>
<text transform="translate(241.40 480.83) scale(1 1.07)" font-size="9.2" text-anchor="end">0.8</text>
<text transform="translate(241.40 453.75) scale(1 1.07)" font-size="9.2" text-anchor="end">1.0</text>
<path d="M376.49 450.60V586.00" stroke="#959595" stroke-width="1.1"/>
<path d="M251.30 586.00h0M251.75 584.97h0M252.20 585.06h0M252.65 585.07h0M253.09 585.07h0M253.54 585.05h0M253.99 585.03h0M254.44 585.01h0M254.89 584.98h0M255.34 584.96h0M255.79 584.93h0M256.24 584.90h0M256.68 584.87h0M257.13 584.84h0M257.58 584.81h0M258.03 584.78h0M258.48 584.75h0M258.93 584.72h0M259.38 584.68h0M259.83 584.65h0M260.27 584.62h0M260.72 584.59h0M261.17 584.55h0M261.62 584.52h0M262.07 584.49h0M262.52 584.45h0M262.97 584.42h0M263.42 584.39h0M263.86 584.35h0M264.31 584.32h0M264.76 584.28h0M265.21 584.25h0M265.66 584.21h0M266.11 584.17h0M266.56 584.14h0M267.00 584.10h0M267.45 584.07h0M267.90 584.03h0M268.35 583.99h0M268.80 583.95h0M269.25 583.91h0M269.70 583.88h0M270.15 583.84h0M270.59 583.80h0M271.04 583.76h0M271.49 583.72h0M271.94 583.68h0M272.39 583.64h0M272.84 583.60h0M273.29 583.56h0M273.74 583.52h0M274.18 583.48h0M274.63 583.43h0M275.08 583.39h0M275.53 583.35h0M275.98 583.31h0M276.43 583.26h0M276.88 583.22h0M277.33 583.17h0M277.77 583.13h0M278.22 583.08h0M278.67 583.04h0M279.12 582.99h0M279.57 582.95h0M280.02 582.90h0M280.47 582.85h0M280.91 582.81h0M281.36 582.76h0M281.81 582.71h0M282.26 582.66h0M282.71 582.61h0M283.16 582.56h0M283.61 582.52h0M284.06 582.46h0M284.50 582.41h0M284.95 582.36h0M285.40 582.31h0M285.85 582.26h0M286.30 582.21h0M286.75 582.15h0M287.20 582.10h0M287.65 582.05h0M288.09 581.99h0M288.54 581.94h0M288.99 581.88h0M289.44 581.83h0M289.89 581.77h0M290.34 581.71h0M290.79 581.66h0M291.24 581.60h0M291.68 581.54h0M292.13 581.48h0M292.58 581.42h0M293.03 581.36h0M293.48 581.30h0M293.93 581.24h0M294.38 581.18h0M294.82 581.12h0M295.27 581.06h0M295.72 580.99h0M296.17 580.93h0M296.62 580.87h0M297.07 580.80h0M297.52 580.74h0M297.97 580.67h0M298.41 580.60h0M298.86 580.54h0M299.31 580.47h0M299.76 580.40h0M300.21 580.33h0M300.66 580.26h0M301.11 580.19h0M301.56 580.12h0M302.00 580.05h0M302.45 579.98h0M302.90 579.90h0M303.35 579.83h0M303.80 579.75h0M304.25 579.68h0M304.70 579.60h0M305.15 579.53h0M305.59 579.45h0M306.04 579.37h0M306.49 579.30h0M306.94 579.22h0M307.39 579.14h0M307.84 579.06h0M308.29 578.97h0M308.73 578.89h0M309.18 578.81h0M309.63 578.73h0M310.08 578.64h0M310.53 578.56h0M310.98 578.47h0M311.43 578.38h0M311.88 578.29h0M312.32 578.21h0M312.77 578.12h0M313.22 578.03h0M313.67 577.94h0M314.12 577.84h0M314.57 577.75h0M315.02 577.66h0M315.47 577.56h0M315.91 577.47h0M316.36 577.37h0M316.81 577.27h0M317.26 577.17h0M317.71 577.07h0M318.16 576.97h0M318.61 576.87h0M319.06 576.77h0M319.50 576.67h0M319.95 576.56h0M320.40 576.46h0M320.85 576.35h0M321.30 576.24h0M321.75 576.13h0M322.20 576.02h0M322.64 575.91h0M323.09 575.80h0M323.54 575.69h0M323.99 575.57h0M324.44 575.46h0M324.89 575.34h0M325.34 575.22h0M325.79 575.10h0M326.23 574.98h0M326.68 574.86h0M327.13 574.74h0M327.58 574.62h0M328.03 574.49h0M328.48 574.36h0M328.93 574.24h0M329.38 574.11h0M329.82 573.98h0M330.27 573.84h0M330.72 573.71h0M331.17 573.57h0M331.62 573.44h0M332.07 573.30h0M332.52 573.16h0M332.97 573.02h0M333.41 572.88h0M333.86 572.73h0M334.31 572.59h0M334.76 572.44h0M335.21 572.29h0M335.66 572.14h0M336.11 571.99h0M336.55 571.83h0M337.00 571.68h0M337.45 571.52h0M337.90 571.36h0M338.35 571.20h0M338.80 571.04h0M339.25 570.87h0M339.70 570.71h0M340.14 570.54h0M340.59 570.37h0M341.04 570.19h0M341.49 570.02h0M341.94 569.84h0M342.39 569.66h0M342.84 569.48h0M343.29 569.30h0M343.73 569.11h0M344.18 568.93h0M344.63 568.74h0M345.08 568.54h0M345.53 568.35h0M345.98 568.15h0M346.43 567.95h0M346.88 567.75h0M347.32 567.54h0M347.77 567.33h0M348.22 567.12h0M348.67 566.91h0M349.12 566.70h0M349.57 566.48h0M350.02 566.25h0M350.46 566.03h0M350.91 565.80h0M351.36 565.57h0M351.81 565.34h0M352.26 565.10h0M352.71 564.86h0M353.16 564.62h0M353.61 564.37h0M354.05 564.12h0M354.50 563.86h0M354.95 563.60h0M355.40 563.34h0M355.85 563.08h0M356.30 562.81h0M356.75 562.53h0M357.20 562.26h0M357.64 561.97h0M358.09 561.69h0M358.54 561.40h0M358.99 561.10h0M359.44 560.80h0M359.89 560.50h0M360.34 560.19h0M360.79 559.87h0M361.23 559.55h0M361.68 559.23h0M362.13 558.90h0M362.58 558.56h0M363.03 558.22h0M363.48 557.87h0M363.93 557.51h0M364.37 557.15h0M364.82 556.79h0M365.27 556.41h0M365.72 556.03h0M366.17 555.64h0M366.62 555.25h0M367.07 554.85h0M367.52 554.44h0M367.96 554.02h0M368.41 553.59h0M368.86 553.15h0M369.31 552.71h0M369.76 552.26h0M370.21 551.79h0M370.66 551.32h0M371.11 550.83h0M371.55 550.34h0M372.00 549.83h0M372.45 549.31h0M372.90 548.78h0M373.35 548.24h0M373.80 547.68h0M374.25 547.11h0M374.70 546.52h0M375.14 545.92h0M375.59 545.30h0M376.04 544.67h0M376.49 544.02h0M376.94 543.35h0M377.39 542.65h0M377.84 541.94h0M378.28 541.20h0M378.73 540.44h0M379.18 539.66h0M379.63 538.85h0M380.08 538.01h0M380.53 537.13h0M380.98 536.23h0M381.43 535.28h0M381.87 534.30h0M382.32 533.27h0M382.77 532.20h0M383.22 531.08h0M383.67 529.89h0M384.12 528.65h0M384.57 527.33h0M385.02 525.93h0M385.46 524.44h0M385.91 522.85h0M386.36 521.13h0M386.85 516.68h0M387.41 514.24h0M388.10 509.61h0M388.63 505.44h0M388.95 501.24h0M389.25 495.96h0M389.72 486.48h0M390.21 469.20h0M390.40 450.60h0" fill="none" stroke="#4ec5c5" stroke-width="1.9" stroke-linecap="round"/>
<path d="M251.30 586.00h0M251.75 585.85h0M252.20 585.81h0M252.65 585.77h0M253.09 585.74h0M253.54 585.70h0M253.99 585.67h0M254.44 585.64h0M254.89 585.60h0M255.34 585.57h0M255.79 585.54h0M256.24 585.51h0M256.68 585.48h0M257.13 585.45h0M257.58 585.42h0M258.03 585.39h0M258.48 585.36h0M258.93 585.33h0M259.38 585.29h0M259.83 585.26h0M260.27 585.23h0M260.72 585.20h0M261.17 585.17h0M261.62 585.14h0M262.07 585.10h0M262.52 585.07h0M262.97 585.04h0M263.42 585.00h0M263.86 584.97h0M264.31 584.94h0M264.76 584.90h0M265.21 584.87h0M265.66 584.83h0M266.11 584.80h0M266.56 584.77h0M267.00 584.73h0M267.45 584.69h0M267.90 584.66h0M268.35 584.62h0M268.80 584.59h0M269.25 584.55h0M269.70 584.51h0M270.15 584.48h0M270.59 584.44h0M271.04 584.40h0M271.49 584.36h0M271.94 584.32h0M272.39 584.28h0M272.84 584.25h0M273.29 584.21h0M273.74 584.17h0M274.18 584.13h0M274.63 584.09h0M275.08 584.04h0M275.53 584.00h0M275.98 583.96h0M276.43 583.92h0M276.88 583.88h0M277.33 583.83h0M277.77 583.79h0M278.22 583.75h0M278.67 583.70h0M279.12 583.66h0M279.57 583.61h0M280.02 583.57h0M280.47 583.52h0M280.91 583.48h0M281.36 583.43h0M281.81 583.39h0M282.26 583.34h0M282.71 583.29h0M283.16 583.24h0M283.61 583.19h0M284.06 583.15h0M284.50 583.10h0M284.95 583.05h0M285.40 583.00h0M285.85 582.95h0M286.30 582.90h0M286.75 582.84h0M287.20 582.79h0M287.65 582.74h0M288.09 582.69h0M288.54 582.63h0M288.99 582.58h0M289.44 582.53h0M289.89 582.47h0M290.34 582.42h0M290.79 582.36h0M291.24 582.31h0M291.68 582.25h0M292.13 582.19h0M292.58 582.13h0M293.03 582.08h0M293.48 582.02h0M293.93 581.96h0M294.38 581.90h0M294.82 581.84h0M295.27 581.78h0M295.72 581.72h0M296.17 581.66h0M296.62 581.59h0M297.07 581.53h0M297.52 581.47h0M297.97 581.40h0M298.41 581.34h0M298.86 581.27h0M299.31 581.21h0M299.76 581.14h0M300.21 581.07h0M300.66 581.01h0M301.11 580.94h0M301.56 580.87h0M302.00 580.80h0M302.45 580.73h0M302.90 580.66h0M303.35 580.59h0M303.80 580.51h0M304.25 580.44h0M304.70 580.37h0M305.15 580.29h0M305.59 580.22h0M306.04 580.14h0M306.49 580.07h0M306.94 579.99h0M307.39 579.91h0M307.84 579.84h0M308.29 579.76h0M308.73 579.68h0M309.18 579.60h0M309.63 579.52h0M310.08 579.43h0M310.53 579.35h0M310.98 579.27h0M311.43 579.18h0M311.88 579.10h0M312.32 579.01h0M312.77 578.93h0M313.22 578.84h0M313.67 578.75h0M314.12 578.66h0M314.57 578.57h0M315.02 578.48h0M315.47 578.39h0M315.91 578.30h0M316.36 578.20h0M316.81 578.11h0M317.26 578.01h0M317.71 577.92h0M318.16 577.82h0M318.61 577.72h0M319.06 577.62h0M319.50 577.52h0M319.95 577.42h0M320.40 577.32h0M320.85 577.22h0M321.30 577.11h0M321.75 577.01h0M322.20 576.90h0M322.64 576.80h0M323.09 576.69h0M323.54 576.58h0M323.99 576.47h0M324.44 576.36h0M324.89 576.24h0M325.34 576.13h0M325.79 576.01h0M326.23 575.90h0M326.68 575.78h0M327.13 575.66h0M327.58 575.54h0M328.03 575.42h0M328.48 575.30h0M328.93 575.18h0M329.38 575.05h0M329.82 574.92h0M330.27 574.80h0M330.72 574.67h0M331.17 574.54h0M331.62 574.41h0M332.07 574.27h0M332.52 574.14h0M332.97 574.00h0M333.41 573.86h0M333.86 573.73h0M334.31 573.58h0M334.76 573.44h0M335.21 573.30h0M335.66 573.15h0M336.11 573.01h0M336.55 572.86h0M337.00 572.71h0M337.45 572.56h0M337.90 572.40h0M338.35 572.25h0M338.80 572.09h0M339.25 571.93h0M339.70 571.77h0M340.14 571.61h0M340.59 571.44h0M341.04 571.28h0M341.49 571.11h0M341.94 570.94h0M342.39 570.76h0M342.84 570.59h0M343.29 570.41h0M343.73 570.23h0M344.18 570.05h0M344.63 569.87h0M345.08 569.68h0M345.53 569.49h0M345.98 569.30h0M346.43 569.11h0M346.88 568.91h0M347.32 568.71h0M347.77 568.51h0M348.22 568.31h0M348.67 568.10h0M349.12 567.90h0M349.57 567.68h0M350.02 567.47h0M350.46 567.25h0M350.91 567.03h0M351.36 566.81h0M351.81 566.58h0M352.26 566.35h0M352.71 566.12h0M353.16 565.88h0M353.61 565.64h0M354.05 565.40h0M354.50 565.15h0M354.95 564.90h0M355.40 564.65h0M355.85 564.39h0M356.30 564.13h0M356.75 563.87h0M357.20 563.60h0M357.64 563.32h0M358.09 563.04h0M358.54 562.76h0M358.99 562.47h0M359.44 562.18h0M359.89 561.89h0M360.34 561.58h0M360.79 561.28h0M361.23 560.97h0M361.68 560.65h0M362.13 560.33h0M362.58 560.00h0M363.03 559.66h0M363.48 559.32h0M363.93 558.98h0M364.37 558.62h0M364.82 558.27h0M365.27 557.90h0M365.72 557.53h0M366.17 557.15h0M366.62 556.76h0M367.07 556.36h0M367.52 555.96h0M367.96 555.55h0M368.41 555.13h0M368.86 554.70h0M369.31 554.26h0M369.76 553.81h0M370.21 553.35h0M370.66 552.88h0M371.11 552.40h0M371.55 551.91h0M372.00 551.41h0M372.45 550.89h0M372.90 550.37h0M373.35 549.82h0M373.80 549.27h0M374.25 548.70h0M374.70 548.11h0M375.14 547.51h0M375.59 546.89h0M376.04 546.25h0M376.49 545.59h0M376.94 544.92h0M377.39 544.22h0M377.84 543.49h0M378.28 542.75h0M378.73 541.98h0M379.18 541.18h0M379.63 540.35h0M380.08 539.48h0M380.53 538.59h0M380.98 537.65h0M381.43 536.68h0M381.87 535.66h0M382.32 534.59h0M382.77 533.47h0M383.22 532.30h0M383.67 531.05h0M384.12 529.74h0M384.57 528.34h0M385.02 526.85h0M385.46 525.25h0M385.91 523.52h0M386.36 521.65h0M386.67 517.66h0M387.15 515.32h0M387.62 512.61h0M388.10 509.61h0M388.58 506.26h0M388.95 501.24h0M389.25 495.15h0M389.72 485.66h0M390.21 469.20h0M390.40 450.60h0" fill="none" stroke="#7030a0" stroke-width="1.9" stroke-linecap="round"/>
<path d="M450.50 443.83V592.77M485.27 443.83V592.77M520.05 443.83V592.77M554.83 443.83V592.77M589.60 443.83V592.77M443.55 586.00H596.56M443.55 558.92H596.56M443.55 531.84H596.56M443.55 504.76H596.56M443.55 477.68H596.56M443.55 450.60H596.56" stroke="#efefef" stroke-width="1.1" fill="none"/>
<text transform="translate(520.05 441.50) scale(1 1.07)" font-size="9.8" text-anchor="middle">Zambia</text>
<text transform="translate(450.50 602.70) scale(1 1.07)" font-size="9.2" text-anchor="middle">0.00</text>
<text transform="translate(485.27 602.70) scale(1 1.07)" font-size="9.2" text-anchor="middle">0.25</text>
<text transform="translate(520.05 602.70) scale(1 1.07)" font-size="9.2" text-anchor="middle">0.50</text>
<text transform="translate(554.83 602.70) scale(1 1.07)" font-size="9.2" text-anchor="middle">0.75</text>
<text transform="translate(589.60 602.70) scale(1 1.07)" font-size="9.2" text-anchor="middle">1.00</text>
<text transform="translate(440.60 589.15) scale(1 1.07)" font-size="9.2" text-anchor="end">0.0</text>
<text transform="translate(440.60 562.07) scale(1 1.07)" font-size="9.2" text-anchor="end">0.2</text>
<text transform="translate(440.60 534.99) scale(1 1.07)" font-size="9.2" text-anchor="end">0.4</text>
<text transform="translate(440.60 507.91) scale(1 1.07)" font-size="9.2" text-anchor="end">0.6</text>
<text transform="translate(440.60 480.83) scale(1 1.07)" font-size="9.2" text-anchor="end">0.8</text>
<text transform="translate(440.60 453.75) scale(1 1.07)" font-size="9.2" text-anchor="end">1.0</text>
<path d="M575.69 450.60V586.00" stroke="#959595" stroke-width="1.1"/>
<path d="M450.50 586.00h0M453.08 586.00h0M455.65 585.97h0M458.23 585.91h0M460.80 585.80h0M463.38 585.63h0M465.96 585.40h0M468.53 585.12h0M471.11 584.78h0M473.68 584.37h0M476.26 583.91h0M478.84 583.40h0M481.41 582.82h0M483.99 582.20h0M486.56 581.52h0M489.14 580.79h0M491.71 580.00h0M494.29 579.17h0M496.87 578.28h0M499.44 577.34h0M502.02 576.36h0M504.59 575.32h0M507.17 574.23h0M509.75 573.09h0M512.32 571.90h0M514.90 570.66h0M517.47 569.37h0M520.05 568.03h0M522.63 566.63h0M525.20 565.17h0M527.78 563.65h0M530.35 562.08h0M532.93 560.44h0M535.51 558.73h0M538.08 556.95h0M540.66 555.10h0M543.23 553.17h0M545.81 551.15h0M548.39 549.04h0M550.96 546.83h0M553.54 544.51h0M556.11 542.06h0M558.69 539.47h0M561.26 536.73h0M564.55 533.99h0M567.20 530.87h0M569.58 527.63h0M572.14 524.03h0M574.62 519.94h0M576.98 515.48h0M579.36 510.73h0M581.92 505.50h0M584.30 496.20h0M586.96 486.05h0M589.60 450.60h0" fill="none" stroke="#4ec5c5" stroke-width="1.9" stroke-linecap="round"/>
<path d="M450.50 586.00h0M453.08 585.96h0M455.65 585.86h0M458.23 585.70h0M460.80 585.49h0M463.38 585.23h0M465.96 584.93h0M468.53 584.58h0M471.11 584.20h0M473.68 583.77h0M476.26 583.31h0M478.84 582.81h0M481.41 582.27h0M483.99 581.70h0M486.56 581.09h0M489.14 580.44h0M491.71 579.76h0M494.29 579.04h0M496.87 578.28h0M499.44 577.49h0M502.02 576.66h0M504.59 575.79h0M507.17 574.87h0M509.75 573.92h0M512.32 572.93h0M514.90 571.89h0M517.47 570.81h0M520.05 569.68h0M522.63 568.51h0M525.20 567.28h0M527.78 566.00h0M530.35 564.66h0M532.93 563.27h0M535.51 561.81h0M538.08 560.29h0M540.66 558.69h0M543.23 557.02h0M545.81 555.27h0M548.39 553.42h0M550.96 551.48h0M553.54 549.43h0M556.11 547.26h0M558.69 544.96h0M561.26 542.50h0M563.84 539.87h0M566.42 537.03h0M569.31 534.18h0M571.77 530.87h0M574.33 527.44h0M576.71 523.55h0M579.36 519.46h0M581.92 514.73h0M584.30 506.47h0M586.96 496.96h0M589.60 450.60h0" fill="none" stroke="#7030a0" stroke-width="1.9" stroke-linecap="round"/>
<text transform="translate(206.60 628.50) scale(1 1.07)" font-size="12.45">Cumlative Proportion of Urban Settlements</text>
<text transform="translate(11.30 444.55) rotate(-90) scale(1 1.07)" font-size="12.5">Cumlative Proportion of Total Urban Population</text>
</svg></body></html>
